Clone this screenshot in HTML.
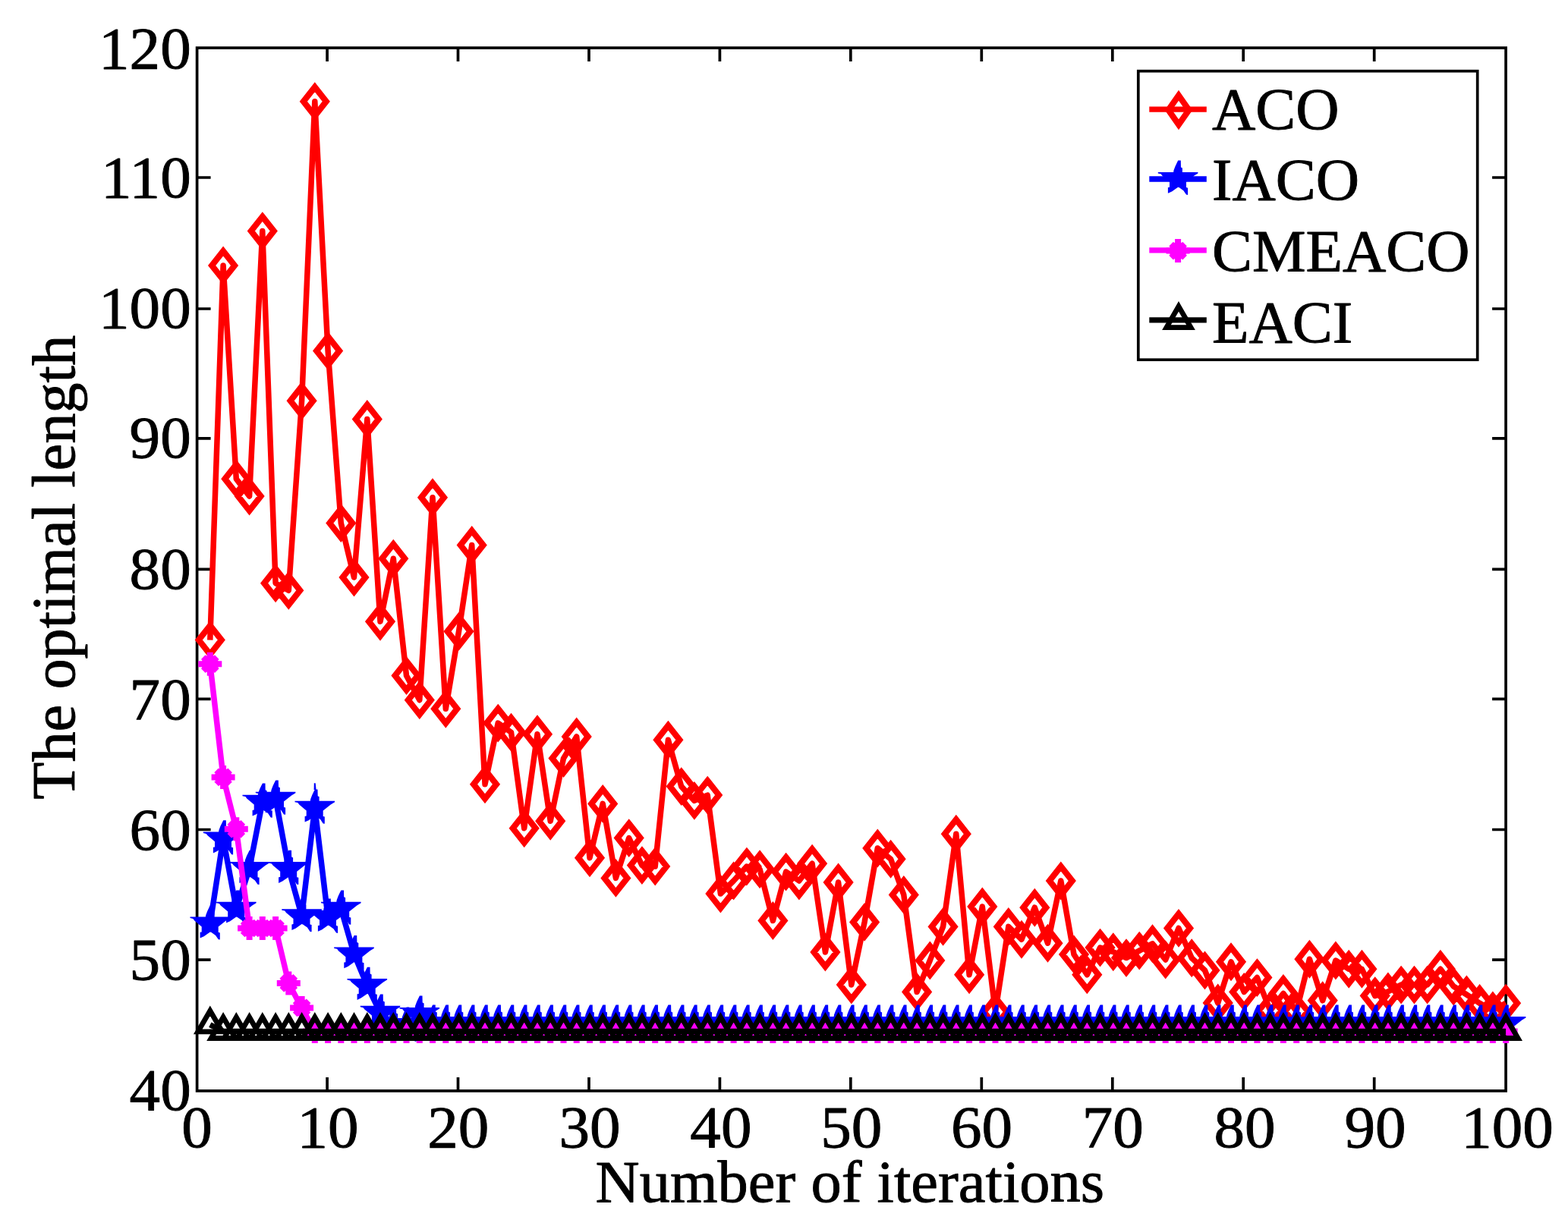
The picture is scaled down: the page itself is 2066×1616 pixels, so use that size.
<!DOCTYPE html>
<html lang="en">
<head>
<meta charset="utf-8">
<title>The optimal length versus Number of iterations</title>
<style>
html,body{margin:0;padding:0;background:#fff;}
body{width:2066px;height:1616px;overflow:hidden;}
figure{margin:0;padding:0;width:2066px;height:1616px;}
svg{display:block;}
text{font-family:"Liberation Serif","DejaVu Serif",serif;font-size:78px;fill:#000;stroke:#000;stroke-width:0.9;stroke-linejoin:round;}
.ax{stroke:#000;stroke-width:3.7;fill:none;stroke-linecap:butt;stroke-linejoin:miter;}
.ln{fill:none;stroke-width:7.5;stroke-linejoin:round;stroke-linecap:butt;}
.mk{fill:none;stroke-width:8;stroke-linejoin:miter;stroke-miterlimit:10;stroke-linecap:butt;}
.tk{stroke-width:6.8;}
.r{stroke:#f00;}.b{stroke:#00f;}.m{stroke:#f0f;}.k{stroke:#000;}
.st{fill:#00f;stroke:none;}
</style>
</head>
<body>
<figure>
<svg width="2066" height="1616" viewBox="0 0 2066 1616">
<rect x="0" y="0" width="2066" height="1616" fill="#fff"/>
<g id="axes">
<path class="ax" d="M431.1,1437.9v-18M431.1,63.1v18M603.5,1437.9v-18M603.5,63.1v18M776,1437.9v-18M776,63.1v18M948.4,1437.9v-18M948.4,63.1v18M1120.8,1437.9v-18M1120.8,63.1v18M1293.3,1437.9v-18M1293.3,63.1v18M1465.8,1437.9v-18M1465.8,63.1v18M1638.2,1437.9v-18M1638.2,63.1v18M1810.7,1437.9v-18M1810.7,63.1v18M259.6,234h18M1984.1,234h-18M259.6,407h18M1984.1,407h-18M259.6,577.9h18M1984.1,577.9h-18M259.6,750.3h18M1984.1,750.3h-18M259.6,921.3h18M1984.1,921.3h-18M259.6,1093.5h18M1984.1,1093.5h-18M259.6,1265.1h18M1984.1,1265.1h-18"/>
<rect class="ax" x="259.6" y="63.1" width="1724.5" height="1374.8"/>
</g>
<g id="series-aco">
<polyline class="ln r" points="276.8,843.6 294.1,349.9 311.3,631.3 328.6,654.1 345.8,304.6 363.1,768.7 380.3,778.2 397.6,528.3 414.8,133.7 432.1,462.4 449.3,689.5 466.5,761 483.8,552.5 501,819.2 518.3,736.2 535.5,890.5 552.8,922.8 570,655.8 587.3,934.3 604.5,832.3 621.7,718.5 639,1033.7 656.2,953.1 673.5,965.3 690.7,1091.7 708,967.7 725.2,1082.2 742.5,999.6 759.7,970.9 777,1130.7 794.2,1059.4 811.4,1157.4 828.7,1104.6 845.9,1140.6 863.2,1142 880.4,975.2 897.7,1036.6 914.9,1055.4 932.2,1048.1 949.4,1178 966.6,1161 983.9,1142.1 1001.1,1145.8 1018.4,1213.5 1035.6,1149.1 1052.9,1161 1070.1,1138.2 1087.4,1255 1104.6,1163 1121.8,1298 1139.1,1215.4 1156.3,1118 1173.6,1132.3 1190.8,1179.4 1208.1,1307.5 1225.3,1266 1242.6,1221.4 1259.8,1099.2 1277.1,1284.8 1294.3,1195 1311.5,1333.8 1328.8,1221.4 1346,1238.2 1363.3,1196.2 1380.5,1243.2 1397.8,1161 1415,1258 1432.3,1284.8 1449.5,1249.1 1466.8,1254.7 1484,1262.6 1501.2,1253.1 1518.5,1243.8 1535.7,1265 1553,1223.4 1570.2,1262.7 1587.5,1279 1604.7,1322 1622,1267.8 1639.2,1307.5 1656.4,1288.6 1673.7,1332 1690.9,1309.4 1708.2,1333 1725.4,1264.2 1742.7,1318.8 1759.9,1266 1777.2,1277.3 1794.4,1277.3 1811.7,1312.6 1828.9,1307 1846.1,1298.1 1863.4,1298.1 1880.6,1298.1 1897.9,1277.3 1915.1,1300 1932.4,1311 1949.6,1322.4 1966.9,1332 1984.1,1322.3"/>
<path class="mk r" d="M276.8,824.6l15,19 -15,19 -15,-19zM294.1,330.9l15,19 -15,19 -15,-19zM311.3,612.3l15,19 -15,19 -15,-19zM328.6,635.1l15,19 -15,19 -15,-19zM345.8,285.6l15,19 -15,19 -15,-19zM363.1,749.7l15,19 -15,19 -15,-19zM380.3,759.2l15,19 -15,19 -15,-19zM397.6,509.3l15,19 -15,19 -15,-19zM414.8,114.7l15,19 -15,19 -15,-19zM432.1,443.4l15,19 -15,19 -15,-19zM449.3,670.5l15,19 -15,19 -15,-19zM466.5,742l15,19 -15,19 -15,-19zM483.8,533.5l15,19 -15,19 -15,-19zM501,800.2l15,19 -15,19 -15,-19zM518.3,717.2l15,19 -15,19 -15,-19zM535.5,871.5l15,19 -15,19 -15,-19zM552.8,903.8l15,19 -15,19 -15,-19zM570,636.8l15,19 -15,19 -15,-19zM587.3,915.3l15,19 -15,19 -15,-19zM604.5,813.3l15,19 -15,19 -15,-19zM621.7,699.5l15,19 -15,19 -15,-19zM639,1014.7l15,19 -15,19 -15,-19zM656.2,934.1l15,19 -15,19 -15,-19zM673.5,946.3l15,19 -15,19 -15,-19zM690.7,1072.7l15,19 -15,19 -15,-19zM708,948.7l15,19 -15,19 -15,-19zM725.2,1063.2l15,19 -15,19 -15,-19zM742.5,980.6l15,19 -15,19 -15,-19zM759.7,951.9l15,19 -15,19 -15,-19zM777,1111.7l15,19 -15,19 -15,-19zM794.2,1040.4l15,19 -15,19 -15,-19zM811.4,1138.4l15,19 -15,19 -15,-19zM828.7,1085.6l15,19 -15,19 -15,-19zM845.9,1121.6l15,19 -15,19 -15,-19zM863.2,1123l15,19 -15,19 -15,-19zM880.4,956.2l15,19 -15,19 -15,-19zM897.7,1017.6l15,19 -15,19 -15,-19zM914.9,1036.4l15,19 -15,19 -15,-19zM932.2,1029.1l15,19 -15,19 -15,-19zM949.4,1159l15,19 -15,19 -15,-19zM966.6,1142l15,19 -15,19 -15,-19zM983.9,1123.1l15,19 -15,19 -15,-19zM1001.1,1126.8l15,19 -15,19 -15,-19zM1018.4,1194.5l15,19 -15,19 -15,-19zM1035.6,1130.1l15,19 -15,19 -15,-19zM1052.9,1142l15,19 -15,19 -15,-19zM1070.1,1119.2l15,19 -15,19 -15,-19zM1087.4,1236l15,19 -15,19 -15,-19zM1104.6,1144l15,19 -15,19 -15,-19zM1121.8,1279l15,19 -15,19 -15,-19zM1139.1,1196.4l15,19 -15,19 -15,-19zM1156.3,1099l15,19 -15,19 -15,-19zM1173.6,1113.3l15,19 -15,19 -15,-19zM1190.8,1160.4l15,19 -15,19 -15,-19zM1208.1,1288.5l15,19 -15,19 -15,-19zM1225.3,1247l15,19 -15,19 -15,-19zM1242.6,1202.4l15,19 -15,19 -15,-19zM1259.8,1080.2l15,19 -15,19 -15,-19zM1277.1,1265.8l15,19 -15,19 -15,-19zM1294.3,1176l15,19 -15,19 -15,-19zM1311.5,1314.8l15,19 -15,19 -15,-19zM1328.8,1202.4l15,19 -15,19 -15,-19zM1346,1219.2l15,19 -15,19 -15,-19zM1363.3,1177.2l15,19 -15,19 -15,-19zM1380.5,1224.2l15,19 -15,19 -15,-19zM1397.8,1142l15,19 -15,19 -15,-19zM1415,1239l15,19 -15,19 -15,-19zM1432.3,1265.8l15,19 -15,19 -15,-19zM1449.5,1230.1l15,19 -15,19 -15,-19zM1466.8,1235.7l15,19 -15,19 -15,-19zM1484,1243.6l15,19 -15,19 -15,-19zM1501.2,1234.1l15,19 -15,19 -15,-19zM1518.5,1224.8l15,19 -15,19 -15,-19zM1535.7,1246l15,19 -15,19 -15,-19zM1553,1204.4l15,19 -15,19 -15,-19zM1570.2,1243.7l15,19 -15,19 -15,-19zM1587.5,1260l15,19 -15,19 -15,-19zM1604.7,1303l15,19 -15,19 -15,-19zM1622,1248.8l15,19 -15,19 -15,-19zM1639.2,1288.5l15,19 -15,19 -15,-19zM1656.4,1269.6l15,19 -15,19 -15,-19zM1673.7,1313l15,19 -15,19 -15,-19zM1690.9,1290.4l15,19 -15,19 -15,-19zM1708.2,1314l15,19 -15,19 -15,-19zM1725.4,1245.2l15,19 -15,19 -15,-19zM1742.7,1299.8l15,19 -15,19 -15,-19zM1759.9,1247l15,19 -15,19 -15,-19zM1777.2,1258.3l15,19 -15,19 -15,-19zM1794.4,1258.3l15,19 -15,19 -15,-19zM1811.7,1293.6l15,19 -15,19 -15,-19zM1828.9,1288l15,19 -15,19 -15,-19zM1846.1,1279.1l15,19 -15,19 -15,-19zM1863.4,1279.1l15,19 -15,19 -15,-19zM1880.6,1279.1l15,19 -15,19 -15,-19zM1897.9,1258.3l15,19 -15,19 -15,-19zM1915.1,1281l15,19 -15,19 -15,-19zM1932.4,1292l15,19 -15,19 -15,-19zM1949.6,1303.4l15,19 -15,19 -15,-19zM1966.9,1313l15,19 -15,19 -15,-19zM1984.1,1303.3l15,19 -15,19 -15,-19z"/>
</g>
<g id="series-iaco">
<polyline class="ln b" points="276.8,1217.7 294.1,1105.6 311.3,1197.8 328.6,1145.1 345.8,1056.8 363.1,1052.8 380.3,1145.1 397.6,1207.3 414.8,1064.8 432.1,1209 449.3,1197.8 466.5,1257.5 483.8,1299.1 501,1334.9 518.3,1351 535.5,1352 552.8,1337 570,1349 587.3,1349 604.5,1349 621.7,1349 639,1349 656.2,1349 673.5,1349 690.7,1349 708,1349 725.2,1349 742.5,1349 759.7,1349 777,1349 794.2,1349 811.4,1349 828.7,1349 845.9,1349 863.2,1349 880.4,1349 897.7,1349 914.9,1349 932.2,1349 949.4,1349 966.6,1349 983.9,1349 1001.1,1349 1018.4,1349 1035.6,1349 1052.9,1349 1070.1,1349 1087.4,1349 1104.6,1349 1121.8,1349 1139.1,1349 1156.3,1349 1173.6,1349 1190.8,1349 1208.1,1349 1225.3,1349 1242.6,1349 1259.8,1349 1277.1,1349 1294.3,1349 1311.5,1349 1328.8,1349 1346,1349 1363.3,1349 1380.5,1349 1397.8,1349 1415,1349 1432.3,1349 1449.5,1349 1466.8,1349 1484,1349 1501.2,1349 1518.5,1349 1535.7,1349 1553,1349 1570.2,1349 1587.5,1349 1604.7,1349 1622,1349 1639.2,1349 1656.4,1349 1673.7,1349 1690.9,1349 1708.2,1349 1725.4,1349 1742.7,1349 1759.9,1349 1777.2,1349 1794.4,1349 1811.7,1349 1828.9,1349 1846.1,1349 1863.4,1349 1880.6,1349 1897.9,1349 1915.1,1349 1932.4,1349 1949.6,1349 1966.9,1349 1984.1,1349"/>
<path class="st" d="M276.9,1193.3l3.6,0 0.2,8.9 1.9,1 0,5.4 20.5,0 0,1.5 -5.3,3.3 -10.1,8 0,7.4 2.1,0.6 0,9.2 -2.1,-0.3 -3.6,-5.3 -5.9,-4.2 -1.4,-0.3 -8.1,5.7 -5.1,2.3 0,-7.7 2.1,-0.3 0,-7.1 -9.5,-8 -1.8,-2.4 -3.9,-0.9 0,-1.5 20.3,0 0.4,-2.4 2,-5.3 1.9,-3.9zM294.2,1081.2l3.6,0 0.2,8.9 1.9,1 0,5.4 20.5,0 0,1.5 -5.3,3.3 -10.1,8 0,7.4 2.1,0.6 0,9.2 -2.1,-0.3 -3.6,-5.3 -5.9,-4.2 -1.4,-0.3 -8.1,5.7 -5.1,2.3 0,-7.7 2.1,-0.3 0,-7.1 -9.5,-8 -1.8,-2.4 -3.9,-0.9 0,-1.5 20.3,0 0.4,-2.4 2,-5.3 1.9,-3.9zM311.4,1173.4l3.6,0 0.2,8.9 1.9,1 0,5.4 20.5,0 0,1.5 -5.3,3.3 -10.1,8 0,7.4 2.1,0.6 0,9.2 -2.1,-0.3 -3.6,-5.3 -5.9,-4.2 -1.4,-0.3 -8.1,5.7 -5.1,2.3 0,-7.7 2.1,-0.3 0,-7.1 -9.5,-8 -1.8,-2.4 -3.9,-0.9 0,-1.5 20.3,0 0.4,-2.4 2,-5.3 1.9,-3.9zM328.7,1120.7l3.6,0 0.2,8.9 1.9,1 0,5.4 20.5,0 0,1.5 -5.3,3.3 -10.1,8 0,7.4 2.1,0.6 0,9.2 -2.1,-0.3 -3.6,-5.3 -5.9,-4.2 -1.4,-0.3 -8.1,5.7 -5.1,2.3 0,-7.7 2.1,-0.3 0,-7.1 -9.5,-8 -1.8,-2.4 -3.9,-0.9 0,-1.5 20.3,0 0.4,-2.4 2,-5.3 1.9,-3.9zM345.9,1032.4l3.6,0 0.2,8.9 1.9,1 0,5.4 20.5,0 0,1.5 -5.3,3.3 -10.1,8 0,7.4 2.1,0.6 0,9.2 -2.1,-0.3 -3.6,-5.3 -5.9,-4.2 -1.4,-0.3 -8.1,5.7 -5.1,2.3 0,-7.7 2.1,-0.3 0,-7.1 -9.5,-8 -1.8,-2.4 -3.9,-0.9 0,-1.5 20.3,0 0.4,-2.4 2,-5.3 1.9,-3.9zM363.2,1028.4l3.6,0 0.2,8.9 1.9,1 0,5.4 20.5,0 0,1.5 -5.3,3.3 -10.1,8 0,7.4 2.1,0.6 0,9.2 -2.1,-0.3 -3.6,-5.3 -5.9,-4.2 -1.4,-0.3 -8.1,5.7 -5.1,2.3 0,-7.7 2.1,-0.3 0,-7.1 -9.5,-8 -1.8,-2.4 -3.9,-0.9 0,-1.5 20.3,0 0.4,-2.4 2,-5.3 1.9,-3.9zM380.4,1120.7l3.6,0 0.2,8.9 1.9,1 0,5.4 20.5,0 0,1.5 -5.3,3.3 -10.1,8 0,7.4 2.1,0.6 0,9.2 -2.1,-0.3 -3.6,-5.3 -5.9,-4.2 -1.4,-0.3 -8.1,5.7 -5.1,2.3 0,-7.7 2.1,-0.3 0,-7.1 -9.5,-8 -1.8,-2.4 -3.9,-0.9 0,-1.5 20.3,0 0.4,-2.4 2,-5.3 1.9,-3.9zM397.7,1182.9l3.6,0 0.2,8.9 1.9,1 0,5.4 20.5,0 0,1.5 -5.3,3.3 -10.1,8 0,7.4 2.1,0.6 0,9.2 -2.1,-0.3 -3.6,-5.3 -5.9,-4.2 -1.4,-0.3 -8.1,5.7 -5.1,2.3 0,-7.7 2.1,-0.3 0,-7.1 -9.5,-8 -1.8,-2.4 -3.9,-0.9 0,-1.5 20.3,0 0.4,-2.4 2,-5.3 1.9,-3.9zM414.9,1040.4l3.6,0 0.2,8.9 1.9,1 0,5.4 20.5,0 0,1.5 -5.3,3.3 -10.1,8 0,7.4 2.1,0.6 0,9.2 -2.1,-0.3 -3.6,-5.3 -5.9,-4.2 -1.4,-0.3 -8.1,5.7 -5.1,2.3 0,-7.7 2.1,-0.3 0,-7.1 -9.5,-8 -1.8,-2.4 -3.9,-0.9 0,-1.5 20.3,0 0.4,-2.4 2,-5.3 1.9,-3.9zM432.2,1184.6l3.6,0 0.2,8.9 1.9,1 0,5.4 20.5,0 0,1.5 -5.3,3.3 -10.1,8 0,7.4 2.1,0.6 0,9.2 -2.1,-0.3 -3.6,-5.3 -5.9,-4.2 -1.4,-0.3 -8.1,5.7 -5.1,2.3 0,-7.7 2.1,-0.3 0,-7.1 -9.5,-8 -1.8,-2.4 -3.9,-0.9 0,-1.5 20.3,0 0.4,-2.4 2,-5.3 1.9,-3.9zM449.4,1173.4l3.6,0 0.2,8.9 1.9,1 0,5.4 20.5,0 0,1.5 -5.3,3.3 -10.1,8 0,7.4 2.1,0.6 0,9.2 -2.1,-0.3 -3.6,-5.3 -5.9,-4.2 -1.4,-0.3 -8.1,5.7 -5.1,2.3 0,-7.7 2.1,-0.3 0,-7.1 -9.5,-8 -1.8,-2.4 -3.9,-0.9 0,-1.5 20.3,0 0.4,-2.4 2,-5.3 1.9,-3.9zM466.6,1233.1l3.6,0 0.2,8.9 1.9,1 0,5.4 20.5,0 0,1.5 -5.3,3.3 -10.1,8 0,7.4 2.1,0.6 0,9.2 -2.1,-0.3 -3.6,-5.3 -5.9,-4.2 -1.4,-0.3 -8.1,5.7 -5.1,2.3 0,-7.7 2.1,-0.3 0,-7.1 -9.5,-8 -1.8,-2.4 -3.9,-0.9 0,-1.5 20.3,0 0.4,-2.4 2,-5.3 1.9,-3.9zM483.9,1274.7l3.6,0 0.2,8.9 1.9,1 0,5.4 20.5,0 0,1.5 -5.3,3.3 -10.1,8 0,7.4 2.1,0.6 0,9.2 -2.1,-0.3 -3.6,-5.3 -5.9,-4.2 -1.4,-0.3 -8.1,5.7 -5.1,2.3 0,-7.7 2.1,-0.3 0,-7.1 -9.5,-8 -1.8,-2.4 -3.9,-0.9 0,-1.5 20.3,0 0.4,-2.4 2,-5.3 1.9,-3.9zM501.1,1310.5l3.6,0 0.2,8.9 1.9,1 0,5.4 20.5,0 0,1.5 -5.3,3.3 -10.1,8 0,7.4 2.1,0.6 0,9.2 -2.1,-0.3 -3.6,-5.3 -5.9,-4.2 -1.4,-0.3 -8.1,5.7 -5.1,2.3 0,-7.7 2.1,-0.3 0,-7.1 -9.5,-8 -1.8,-2.4 -3.9,-0.9 0,-1.5 20.3,0 0.4,-2.4 2,-5.3 1.9,-3.9zM518.4,1326.6l3.6,0 0.2,8.9 1.9,1 0,5.4 20.5,0 0,1.5 -5.3,3.3 -10.1,8 0,7.4 2.1,0.6 0,9.2 -2.1,-0.3 -3.6,-5.3 -5.9,-4.2 -1.4,-0.3 -8.1,5.7 -5.1,2.3 0,-7.7 2.1,-0.3 0,-7.1 -9.5,-8 -1.8,-2.4 -3.9,-0.9 0,-1.5 20.3,0 0.4,-2.4 2,-5.3 1.9,-3.9zM535.6,1327.6l3.6,0 0.2,8.9 1.9,1 0,5.4 20.5,0 0,1.5 -5.3,3.3 -10.1,8 0,7.4 2.1,0.6 0,9.2 -2.1,-0.3 -3.6,-5.3 -5.9,-4.2 -1.4,-0.3 -8.1,5.7 -5.1,2.3 0,-7.7 2.1,-0.3 0,-7.1 -9.5,-8 -1.8,-2.4 -3.9,-0.9 0,-1.5 20.3,0 0.4,-2.4 2,-5.3 1.9,-3.9zM552.9,1312.6l3.6,0 0.2,8.9 1.9,1 0,5.4 20.5,0 0,1.5 -5.3,3.3 -10.1,8 0,7.4 2.1,0.6 0,9.2 -2.1,-0.3 -3.6,-5.3 -5.9,-4.2 -1.4,-0.3 -8.1,5.7 -5.1,2.3 0,-7.7 2.1,-0.3 0,-7.1 -9.5,-8 -1.8,-2.4 -3.9,-0.9 0,-1.5 20.3,0 0.4,-2.4 2,-5.3 1.9,-3.9zM570.1,1324.6l3.6,0 0.2,8.9 1.9,1 0,5.4 20.5,0 0,1.5 -5.3,3.3 -10.1,8 0,7.4 2.1,0.6 0,9.2 -2.1,-0.3 -3.6,-5.3 -5.9,-4.2 -1.4,-0.3 -8.1,5.7 -5.1,2.3 0,-7.7 2.1,-0.3 0,-7.1 -9.5,-8 -1.8,-2.4 -3.9,-0.9 0,-1.5 20.3,0 0.4,-2.4 2,-5.3 1.9,-3.9zM587.4,1324.6l3.6,0 0.2,8.9 1.9,1 0,5.4 20.5,0 0,1.5 -5.3,3.3 -10.1,8 0,7.4 2.1,0.6 0,9.2 -2.1,-0.3 -3.6,-5.3 -5.9,-4.2 -1.4,-0.3 -8.1,5.7 -5.1,2.3 0,-7.7 2.1,-0.3 0,-7.1 -9.5,-8 -1.8,-2.4 -3.9,-0.9 0,-1.5 20.3,0 0.4,-2.4 2,-5.3 1.9,-3.9zM604.6,1324.6l3.6,0 0.2,8.9 1.9,1 0,5.4 20.5,0 0,1.5 -5.3,3.3 -10.1,8 0,7.4 2.1,0.6 0,9.2 -2.1,-0.3 -3.6,-5.3 -5.9,-4.2 -1.4,-0.3 -8.1,5.7 -5.1,2.3 0,-7.7 2.1,-0.3 0,-7.1 -9.5,-8 -1.8,-2.4 -3.9,-0.9 0,-1.5 20.3,0 0.4,-2.4 2,-5.3 1.9,-3.9zM621.8,1324.6l3.6,0 0.2,8.9 1.9,1 0,5.4 20.5,0 0,1.5 -5.3,3.3 -10.1,8 0,7.4 2.1,0.6 0,9.2 -2.1,-0.3 -3.6,-5.3 -5.9,-4.2 -1.4,-0.3 -8.1,5.7 -5.1,2.3 0,-7.7 2.1,-0.3 0,-7.1 -9.5,-8 -1.8,-2.4 -3.9,-0.9 0,-1.5 20.3,0 0.4,-2.4 2,-5.3 1.9,-3.9zM639.1,1324.6l3.6,0 0.2,8.9 1.9,1 0,5.4 20.5,0 0,1.5 -5.3,3.3 -10.1,8 0,7.4 2.1,0.6 0,9.2 -2.1,-0.3 -3.6,-5.3 -5.9,-4.2 -1.4,-0.3 -8.1,5.7 -5.1,2.3 0,-7.7 2.1,-0.3 0,-7.1 -9.5,-8 -1.8,-2.4 -3.9,-0.9 0,-1.5 20.3,0 0.4,-2.4 2,-5.3 1.9,-3.9zM656.3,1324.6l3.6,0 0.2,8.9 1.9,1 0,5.4 20.5,0 0,1.5 -5.3,3.3 -10.1,8 0,7.4 2.1,0.6 0,9.2 -2.1,-0.3 -3.6,-5.3 -5.9,-4.2 -1.4,-0.3 -8.1,5.7 -5.1,2.3 0,-7.7 2.1,-0.3 0,-7.1 -9.5,-8 -1.8,-2.4 -3.9,-0.9 0,-1.5 20.3,0 0.4,-2.4 2,-5.3 1.9,-3.9zM673.6,1324.6l3.6,0 0.2,8.9 1.9,1 0,5.4 20.5,0 0,1.5 -5.3,3.3 -10.1,8 0,7.4 2.1,0.6 0,9.2 -2.1,-0.3 -3.6,-5.3 -5.9,-4.2 -1.4,-0.3 -8.1,5.7 -5.1,2.3 0,-7.7 2.1,-0.3 0,-7.1 -9.5,-8 -1.8,-2.4 -3.9,-0.9 0,-1.5 20.3,0 0.4,-2.4 2,-5.3 1.9,-3.9zM690.8,1324.6l3.6,0 0.2,8.9 1.9,1 0,5.4 20.5,0 0,1.5 -5.3,3.3 -10.1,8 0,7.4 2.1,0.6 0,9.2 -2.1,-0.3 -3.6,-5.3 -5.9,-4.2 -1.4,-0.3 -8.1,5.7 -5.1,2.3 0,-7.7 2.1,-0.3 0,-7.1 -9.5,-8 -1.8,-2.4 -3.9,-0.9 0,-1.5 20.3,0 0.4,-2.4 2,-5.3 1.9,-3.9zM708.1,1324.6l3.6,0 0.2,8.9 1.9,1 0,5.4 20.5,0 0,1.5 -5.3,3.3 -10.1,8 0,7.4 2.1,0.6 0,9.2 -2.1,-0.3 -3.6,-5.3 -5.9,-4.2 -1.4,-0.3 -8.1,5.7 -5.1,2.3 0,-7.7 2.1,-0.3 0,-7.1 -9.5,-8 -1.8,-2.4 -3.9,-0.9 0,-1.5 20.3,0 0.4,-2.4 2,-5.3 1.9,-3.9zM725.3,1324.6l3.6,0 0.2,8.9 1.9,1 0,5.4 20.5,0 0,1.5 -5.3,3.3 -10.1,8 0,7.4 2.1,0.6 0,9.2 -2.1,-0.3 -3.6,-5.3 -5.9,-4.2 -1.4,-0.3 -8.1,5.7 -5.1,2.3 0,-7.7 2.1,-0.3 0,-7.1 -9.5,-8 -1.8,-2.4 -3.9,-0.9 0,-1.5 20.3,0 0.4,-2.4 2,-5.3 1.9,-3.9zM742.6,1324.6l3.6,0 0.2,8.9 1.9,1 0,5.4 20.5,0 0,1.5 -5.3,3.3 -10.1,8 0,7.4 2.1,0.6 0,9.2 -2.1,-0.3 -3.6,-5.3 -5.9,-4.2 -1.4,-0.3 -8.1,5.7 -5.1,2.3 0,-7.7 2.1,-0.3 0,-7.1 -9.5,-8 -1.8,-2.4 -3.9,-0.9 0,-1.5 20.3,0 0.4,-2.4 2,-5.3 1.9,-3.9zM759.8,1324.6l3.6,0 0.2,8.9 1.9,1 0,5.4 20.5,0 0,1.5 -5.3,3.3 -10.1,8 0,7.4 2.1,0.6 0,9.2 -2.1,-0.3 -3.6,-5.3 -5.9,-4.2 -1.4,-0.3 -8.1,5.7 -5.1,2.3 0,-7.7 2.1,-0.3 0,-7.1 -9.5,-8 -1.8,-2.4 -3.9,-0.9 0,-1.5 20.3,0 0.4,-2.4 2,-5.3 1.9,-3.9zM777.1,1324.6l3.6,0 0.2,8.9 1.9,1 0,5.4 20.5,0 0,1.5 -5.3,3.3 -10.1,8 0,7.4 2.1,0.6 0,9.2 -2.1,-0.3 -3.6,-5.3 -5.9,-4.2 -1.4,-0.3 -8.1,5.7 -5.1,2.3 0,-7.7 2.1,-0.3 0,-7.1 -9.5,-8 -1.8,-2.4 -3.9,-0.9 0,-1.5 20.3,0 0.4,-2.4 2,-5.3 1.9,-3.9zM794.3,1324.6l3.6,0 0.2,8.9 1.9,1 0,5.4 20.5,0 0,1.5 -5.3,3.3 -10.1,8 0,7.4 2.1,0.6 0,9.2 -2.1,-0.3 -3.6,-5.3 -5.9,-4.2 -1.4,-0.3 -8.1,5.7 -5.1,2.3 0,-7.7 2.1,-0.3 0,-7.1 -9.5,-8 -1.8,-2.4 -3.9,-0.9 0,-1.5 20.3,0 0.4,-2.4 2,-5.3 1.9,-3.9zM811.5,1324.6l3.6,0 0.2,8.9 1.9,1 0,5.4 20.5,0 0,1.5 -5.3,3.3 -10.1,8 0,7.4 2.1,0.6 0,9.2 -2.1,-0.3 -3.6,-5.3 -5.9,-4.2 -1.4,-0.3 -8.1,5.7 -5.1,2.3 0,-7.7 2.1,-0.3 0,-7.1 -9.5,-8 -1.8,-2.4 -3.9,-0.9 0,-1.5 20.3,0 0.4,-2.4 2,-5.3 1.9,-3.9zM828.8,1324.6l3.6,0 0.2,8.9 1.9,1 0,5.4 20.5,0 0,1.5 -5.3,3.3 -10.1,8 0,7.4 2.1,0.6 0,9.2 -2.1,-0.3 -3.6,-5.3 -5.9,-4.2 -1.4,-0.3 -8.1,5.7 -5.1,2.3 0,-7.7 2.1,-0.3 0,-7.1 -9.5,-8 -1.8,-2.4 -3.9,-0.9 0,-1.5 20.3,0 0.4,-2.4 2,-5.3 1.9,-3.9zM846,1324.6l3.6,0 0.2,8.9 1.9,1 0,5.4 20.5,0 0,1.5 -5.3,3.3 -10.1,8 0,7.4 2.1,0.6 0,9.2 -2.1,-0.3 -3.6,-5.3 -5.9,-4.2 -1.4,-0.3 -8.1,5.7 -5.1,2.3 0,-7.7 2.1,-0.3 0,-7.1 -9.5,-8 -1.8,-2.4 -3.9,-0.9 0,-1.5 20.3,0 0.4,-2.4 2,-5.3 1.9,-3.9zM863.3,1324.6l3.6,0 0.2,8.9 1.9,1 0,5.4 20.5,0 0,1.5 -5.3,3.3 -10.1,8 0,7.4 2.1,0.6 0,9.2 -2.1,-0.3 -3.6,-5.3 -5.9,-4.2 -1.4,-0.3 -8.1,5.7 -5.1,2.3 0,-7.7 2.1,-0.3 0,-7.1 -9.5,-8 -1.8,-2.4 -3.9,-0.9 0,-1.5 20.3,0 0.4,-2.4 2,-5.3 1.9,-3.9zM880.5,1324.6l3.6,0 0.2,8.9 1.9,1 0,5.4 20.5,0 0,1.5 -5.3,3.3 -10.1,8 0,7.4 2.1,0.6 0,9.2 -2.1,-0.3 -3.6,-5.3 -5.9,-4.2 -1.4,-0.3 -8.1,5.7 -5.1,2.3 0,-7.7 2.1,-0.3 0,-7.1 -9.5,-8 -1.8,-2.4 -3.9,-0.9 0,-1.5 20.3,0 0.4,-2.4 2,-5.3 1.9,-3.9zM897.8,1324.6l3.6,0 0.2,8.9 1.9,1 0,5.4 20.5,0 0,1.5 -5.3,3.3 -10.1,8 0,7.4 2.1,0.6 0,9.2 -2.1,-0.3 -3.6,-5.3 -5.9,-4.2 -1.4,-0.3 -8.1,5.7 -5.1,2.3 0,-7.7 2.1,-0.3 0,-7.1 -9.5,-8 -1.8,-2.4 -3.9,-0.9 0,-1.5 20.3,0 0.4,-2.4 2,-5.3 1.9,-3.9zM915,1324.6l3.6,0 0.2,8.9 1.9,1 0,5.4 20.5,0 0,1.5 -5.3,3.3 -10.1,8 0,7.4 2.1,0.6 0,9.2 -2.1,-0.3 -3.6,-5.3 -5.9,-4.2 -1.4,-0.3 -8.1,5.7 -5.1,2.3 0,-7.7 2.1,-0.3 0,-7.1 -9.5,-8 -1.8,-2.4 -3.9,-0.9 0,-1.5 20.3,0 0.4,-2.4 2,-5.3 1.9,-3.9zM932.3,1324.6l3.6,0 0.2,8.9 1.9,1 0,5.4 20.5,0 0,1.5 -5.3,3.3 -10.1,8 0,7.4 2.1,0.6 0,9.2 -2.1,-0.3 -3.6,-5.3 -5.9,-4.2 -1.4,-0.3 -8.1,5.7 -5.1,2.3 0,-7.7 2.1,-0.3 0,-7.1 -9.5,-8 -1.8,-2.4 -3.9,-0.9 0,-1.5 20.3,0 0.4,-2.4 2,-5.3 1.9,-3.9zM949.5,1324.6l3.6,0 0.2,8.9 1.9,1 0,5.4 20.5,0 0,1.5 -5.3,3.3 -10.1,8 0,7.4 2.1,0.6 0,9.2 -2.1,-0.3 -3.6,-5.3 -5.9,-4.2 -1.4,-0.3 -8.1,5.7 -5.1,2.3 0,-7.7 2.1,-0.3 0,-7.1 -9.5,-8 -1.8,-2.4 -3.9,-0.9 0,-1.5 20.3,0 0.4,-2.4 2,-5.3 1.9,-3.9zM966.7,1324.6l3.6,0 0.2,8.9 1.9,1 0,5.4 20.5,0 0,1.5 -5.3,3.3 -10.1,8 0,7.4 2.1,0.6 0,9.2 -2.1,-0.3 -3.6,-5.3 -5.9,-4.2 -1.4,-0.3 -8.1,5.7 -5.1,2.3 0,-7.7 2.1,-0.3 0,-7.1 -9.5,-8 -1.8,-2.4 -3.9,-0.9 0,-1.5 20.3,0 0.4,-2.4 2,-5.3 1.9,-3.9zM984,1324.6l3.6,0 0.2,8.9 1.9,1 0,5.4 20.5,0 0,1.5 -5.3,3.3 -10.1,8 0,7.4 2.1,0.6 0,9.2 -2.1,-0.3 -3.6,-5.3 -5.9,-4.2 -1.4,-0.3 -8.1,5.7 -5.1,2.3 0,-7.7 2.1,-0.3 0,-7.1 -9.5,-8 -1.8,-2.4 -3.9,-0.9 0,-1.5 20.3,0 0.4,-2.4 2,-5.3 1.9,-3.9zM1001.2,1324.6l3.6,0 0.2,8.9 1.9,1 0,5.4 20.5,0 0,1.5 -5.3,3.3 -10.1,8 0,7.4 2.1,0.6 0,9.2 -2.1,-0.3 -3.6,-5.3 -5.9,-4.2 -1.4,-0.3 -8.1,5.7 -5.1,2.3 0,-7.7 2.1,-0.3 0,-7.1 -9.5,-8 -1.8,-2.4 -3.9,-0.9 0,-1.5 20.3,0 0.4,-2.4 2,-5.3 1.9,-3.9zM1018.5,1324.6l3.6,0 0.2,8.9 1.9,1 0,5.4 20.5,0 0,1.5 -5.3,3.3 -10.1,8 0,7.4 2.1,0.6 0,9.2 -2.1,-0.3 -3.6,-5.3 -5.9,-4.2 -1.4,-0.3 -8.1,5.7 -5.1,2.3 0,-7.7 2.1,-0.3 0,-7.1 -9.5,-8 -1.8,-2.4 -3.9,-0.9 0,-1.5 20.3,0 0.4,-2.4 2,-5.3 1.9,-3.9zM1035.7,1324.6l3.6,0 0.2,8.9 1.9,1 0,5.4 20.5,0 0,1.5 -5.3,3.3 -10.1,8 0,7.4 2.1,0.6 0,9.2 -2.1,-0.3 -3.6,-5.3 -5.9,-4.2 -1.4,-0.3 -8.1,5.7 -5.1,2.3 0,-7.7 2.1,-0.3 0,-7.1 -9.5,-8 -1.8,-2.4 -3.9,-0.9 0,-1.5 20.3,0 0.4,-2.4 2,-5.3 1.9,-3.9zM1053,1324.6l3.6,0 0.2,8.9 1.9,1 0,5.4 20.5,0 0,1.5 -5.3,3.3 -10.1,8 0,7.4 2.1,0.6 0,9.2 -2.1,-0.3 -3.6,-5.3 -5.9,-4.2 -1.4,-0.3 -8.1,5.7 -5.1,2.3 0,-7.7 2.1,-0.3 0,-7.1 -9.5,-8 -1.8,-2.4 -3.9,-0.9 0,-1.5 20.3,0 0.4,-2.4 2,-5.3 1.9,-3.9zM1070.2,1324.6l3.6,0 0.2,8.9 1.9,1 0,5.4 20.5,0 0,1.5 -5.3,3.3 -10.1,8 0,7.4 2.1,0.6 0,9.2 -2.1,-0.3 -3.6,-5.3 -5.9,-4.2 -1.4,-0.3 -8.1,5.7 -5.1,2.3 0,-7.7 2.1,-0.3 0,-7.1 -9.5,-8 -1.8,-2.4 -3.9,-0.9 0,-1.5 20.3,0 0.4,-2.4 2,-5.3 1.9,-3.9zM1087.5,1324.6l3.6,0 0.2,8.9 1.9,1 0,5.4 20.5,0 0,1.5 -5.3,3.3 -10.1,8 0,7.4 2.1,0.6 0,9.2 -2.1,-0.3 -3.6,-5.3 -5.9,-4.2 -1.4,-0.3 -8.1,5.7 -5.1,2.3 0,-7.7 2.1,-0.3 0,-7.1 -9.5,-8 -1.8,-2.4 -3.9,-0.9 0,-1.5 20.3,0 0.4,-2.4 2,-5.3 1.9,-3.9zM1104.7,1324.6l3.6,0 0.2,8.9 1.9,1 0,5.4 20.5,0 0,1.5 -5.3,3.3 -10.1,8 0,7.4 2.1,0.6 0,9.2 -2.1,-0.3 -3.6,-5.3 -5.9,-4.2 -1.4,-0.3 -8.1,5.7 -5.1,2.3 0,-7.7 2.1,-0.3 0,-7.1 -9.5,-8 -1.8,-2.4 -3.9,-0.9 0,-1.5 20.3,0 0.4,-2.4 2,-5.3 1.9,-3.9zM1121.9,1324.6l3.6,0 0.2,8.9 1.9,1 0,5.4 20.5,0 0,1.5 -5.3,3.3 -10.1,8 0,7.4 2.1,0.6 0,9.2 -2.1,-0.3 -3.6,-5.3 -5.9,-4.2 -1.4,-0.3 -8.1,5.7 -5.1,2.3 0,-7.7 2.1,-0.3 0,-7.1 -9.5,-8 -1.8,-2.4 -3.9,-0.9 0,-1.5 20.3,0 0.4,-2.4 2,-5.3 1.9,-3.9zM1139.2,1324.6l3.6,0 0.2,8.9 1.9,1 0,5.4 20.5,0 0,1.5 -5.3,3.3 -10.1,8 0,7.4 2.1,0.6 0,9.2 -2.1,-0.3 -3.6,-5.3 -5.9,-4.2 -1.4,-0.3 -8.1,5.7 -5.1,2.3 0,-7.7 2.1,-0.3 0,-7.1 -9.5,-8 -1.8,-2.4 -3.9,-0.9 0,-1.5 20.3,0 0.4,-2.4 2,-5.3 1.9,-3.9zM1156.4,1324.6l3.6,0 0.2,8.9 1.9,1 0,5.4 20.5,0 0,1.5 -5.3,3.3 -10.1,8 0,7.4 2.1,0.6 0,9.2 -2.1,-0.3 -3.6,-5.3 -5.9,-4.2 -1.4,-0.3 -8.1,5.7 -5.1,2.3 0,-7.7 2.1,-0.3 0,-7.1 -9.5,-8 -1.8,-2.4 -3.9,-0.9 0,-1.5 20.3,0 0.4,-2.4 2,-5.3 1.9,-3.9zM1173.7,1324.6l3.6,0 0.2,8.9 1.9,1 0,5.4 20.5,0 0,1.5 -5.3,3.3 -10.1,8 0,7.4 2.1,0.6 0,9.2 -2.1,-0.3 -3.6,-5.3 -5.9,-4.2 -1.4,-0.3 -8.1,5.7 -5.1,2.3 0,-7.7 2.1,-0.3 0,-7.1 -9.5,-8 -1.8,-2.4 -3.9,-0.9 0,-1.5 20.3,0 0.4,-2.4 2,-5.3 1.9,-3.9zM1190.9,1324.6l3.6,0 0.2,8.9 1.9,1 0,5.4 20.5,0 0,1.5 -5.3,3.3 -10.1,8 0,7.4 2.1,0.6 0,9.2 -2.1,-0.3 -3.6,-5.3 -5.9,-4.2 -1.4,-0.3 -8.1,5.7 -5.1,2.3 0,-7.7 2.1,-0.3 0,-7.1 -9.5,-8 -1.8,-2.4 -3.9,-0.9 0,-1.5 20.3,0 0.4,-2.4 2,-5.3 1.9,-3.9zM1208.2,1324.6l3.6,0 0.2,8.9 1.9,1 0,5.4 20.5,0 0,1.5 -5.3,3.3 -10.1,8 0,7.4 2.1,0.6 0,9.2 -2.1,-0.3 -3.6,-5.3 -5.9,-4.2 -1.4,-0.3 -8.1,5.7 -5.1,2.3 0,-7.7 2.1,-0.3 0,-7.1 -9.5,-8 -1.8,-2.4 -3.9,-0.9 0,-1.5 20.3,0 0.4,-2.4 2,-5.3 1.9,-3.9zM1225.4,1324.6l3.6,0 0.2,8.9 1.9,1 0,5.4 20.5,0 0,1.5 -5.3,3.3 -10.1,8 0,7.4 2.1,0.6 0,9.2 -2.1,-0.3 -3.6,-5.3 -5.9,-4.2 -1.4,-0.3 -8.1,5.7 -5.1,2.3 0,-7.7 2.1,-0.3 0,-7.1 -9.5,-8 -1.8,-2.4 -3.9,-0.9 0,-1.5 20.3,0 0.4,-2.4 2,-5.3 1.9,-3.9zM1242.7,1324.6l3.6,0 0.2,8.9 1.9,1 0,5.4 20.5,0 0,1.5 -5.3,3.3 -10.1,8 0,7.4 2.1,0.6 0,9.2 -2.1,-0.3 -3.6,-5.3 -5.9,-4.2 -1.4,-0.3 -8.1,5.7 -5.1,2.3 0,-7.7 2.1,-0.3 0,-7.1 -9.5,-8 -1.8,-2.4 -3.9,-0.9 0,-1.5 20.3,0 0.4,-2.4 2,-5.3 1.9,-3.9zM1259.9,1324.6l3.6,0 0.2,8.9 1.9,1 0,5.4 20.5,0 0,1.5 -5.3,3.3 -10.1,8 0,7.4 2.1,0.6 0,9.2 -2.1,-0.3 -3.6,-5.3 -5.9,-4.2 -1.4,-0.3 -8.1,5.7 -5.1,2.3 0,-7.7 2.1,-0.3 0,-7.1 -9.5,-8 -1.8,-2.4 -3.9,-0.9 0,-1.5 20.3,0 0.4,-2.4 2,-5.3 1.9,-3.9zM1277.2,1324.6l3.6,0 0.2,8.9 1.9,1 0,5.4 20.5,0 0,1.5 -5.3,3.3 -10.1,8 0,7.4 2.1,0.6 0,9.2 -2.1,-0.3 -3.6,-5.3 -5.9,-4.2 -1.4,-0.3 -8.1,5.7 -5.1,2.3 0,-7.7 2.1,-0.3 0,-7.1 -9.5,-8 -1.8,-2.4 -3.9,-0.9 0,-1.5 20.3,0 0.4,-2.4 2,-5.3 1.9,-3.9zM1294.4,1324.6l3.6,0 0.2,8.9 1.9,1 0,5.4 20.5,0 0,1.5 -5.3,3.3 -10.1,8 0,7.4 2.1,0.6 0,9.2 -2.1,-0.3 -3.6,-5.3 -5.9,-4.2 -1.4,-0.3 -8.1,5.7 -5.1,2.3 0,-7.7 2.1,-0.3 0,-7.1 -9.5,-8 -1.8,-2.4 -3.9,-0.9 0,-1.5 20.3,0 0.4,-2.4 2,-5.3 1.9,-3.9zM1311.6,1324.6l3.6,0 0.2,8.9 1.9,1 0,5.4 20.5,0 0,1.5 -5.3,3.3 -10.1,8 0,7.4 2.1,0.6 0,9.2 -2.1,-0.3 -3.6,-5.3 -5.9,-4.2 -1.4,-0.3 -8.1,5.7 -5.1,2.3 0,-7.7 2.1,-0.3 0,-7.1 -9.5,-8 -1.8,-2.4 -3.9,-0.9 0,-1.5 20.3,0 0.4,-2.4 2,-5.3 1.9,-3.9zM1328.9,1324.6l3.6,0 0.2,8.9 1.9,1 0,5.4 20.5,0 0,1.5 -5.3,3.3 -10.1,8 0,7.4 2.1,0.6 0,9.2 -2.1,-0.3 -3.6,-5.3 -5.9,-4.2 -1.4,-0.3 -8.1,5.7 -5.1,2.3 0,-7.7 2.1,-0.3 0,-7.1 -9.5,-8 -1.8,-2.4 -3.9,-0.9 0,-1.5 20.3,0 0.4,-2.4 2,-5.3 1.9,-3.9zM1346.1,1324.6l3.6,0 0.2,8.9 1.9,1 0,5.4 20.5,0 0,1.5 -5.3,3.3 -10.1,8 0,7.4 2.1,0.6 0,9.2 -2.1,-0.3 -3.6,-5.3 -5.9,-4.2 -1.4,-0.3 -8.1,5.7 -5.1,2.3 0,-7.7 2.1,-0.3 0,-7.1 -9.5,-8 -1.8,-2.4 -3.9,-0.9 0,-1.5 20.3,0 0.4,-2.4 2,-5.3 1.9,-3.9zM1363.4,1324.6l3.6,0 0.2,8.9 1.9,1 0,5.4 20.5,0 0,1.5 -5.3,3.3 -10.1,8 0,7.4 2.1,0.6 0,9.2 -2.1,-0.3 -3.6,-5.3 -5.9,-4.2 -1.4,-0.3 -8.1,5.7 -5.1,2.3 0,-7.7 2.1,-0.3 0,-7.1 -9.5,-8 -1.8,-2.4 -3.9,-0.9 0,-1.5 20.3,0 0.4,-2.4 2,-5.3 1.9,-3.9zM1380.6,1324.6l3.6,0 0.2,8.9 1.9,1 0,5.4 20.5,0 0,1.5 -5.3,3.3 -10.1,8 0,7.4 2.1,0.6 0,9.2 -2.1,-0.3 -3.6,-5.3 -5.9,-4.2 -1.4,-0.3 -8.1,5.7 -5.1,2.3 0,-7.7 2.1,-0.3 0,-7.1 -9.5,-8 -1.8,-2.4 -3.9,-0.9 0,-1.5 20.3,0 0.4,-2.4 2,-5.3 1.9,-3.9zM1397.9,1324.6l3.6,0 0.2,8.9 1.9,1 0,5.4 20.5,0 0,1.5 -5.3,3.3 -10.1,8 0,7.4 2.1,0.6 0,9.2 -2.1,-0.3 -3.6,-5.3 -5.9,-4.2 -1.4,-0.3 -8.1,5.7 -5.1,2.3 0,-7.7 2.1,-0.3 0,-7.1 -9.5,-8 -1.8,-2.4 -3.9,-0.9 0,-1.5 20.3,0 0.4,-2.4 2,-5.3 1.9,-3.9zM1415.1,1324.6l3.6,0 0.2,8.9 1.9,1 0,5.4 20.5,0 0,1.5 -5.3,3.3 -10.1,8 0,7.4 2.1,0.6 0,9.2 -2.1,-0.3 -3.6,-5.3 -5.9,-4.2 -1.4,-0.3 -8.1,5.7 -5.1,2.3 0,-7.7 2.1,-0.3 0,-7.1 -9.5,-8 -1.8,-2.4 -3.9,-0.9 0,-1.5 20.3,0 0.4,-2.4 2,-5.3 1.9,-3.9zM1432.4,1324.6l3.6,0 0.2,8.9 1.9,1 0,5.4 20.5,0 0,1.5 -5.3,3.3 -10.1,8 0,7.4 2.1,0.6 0,9.2 -2.1,-0.3 -3.6,-5.3 -5.9,-4.2 -1.4,-0.3 -8.1,5.7 -5.1,2.3 0,-7.7 2.1,-0.3 0,-7.1 -9.5,-8 -1.8,-2.4 -3.9,-0.9 0,-1.5 20.3,0 0.4,-2.4 2,-5.3 1.9,-3.9zM1449.6,1324.6l3.6,0 0.2,8.9 1.9,1 0,5.4 20.5,0 0,1.5 -5.3,3.3 -10.1,8 0,7.4 2.1,0.6 0,9.2 -2.1,-0.3 -3.6,-5.3 -5.9,-4.2 -1.4,-0.3 -8.1,5.7 -5.1,2.3 0,-7.7 2.1,-0.3 0,-7.1 -9.5,-8 -1.8,-2.4 -3.9,-0.9 0,-1.5 20.3,0 0.4,-2.4 2,-5.3 1.9,-3.9zM1466.8,1324.6l3.6,0 0.2,8.9 1.9,1 0,5.4 20.5,0 0,1.5 -5.3,3.3 -10.1,8 0,7.4 2.1,0.6 0,9.2 -2.1,-0.3 -3.6,-5.3 -5.9,-4.2 -1.4,-0.3 -8.1,5.7 -5.1,2.3 0,-7.7 2.1,-0.3 0,-7.1 -9.5,-8 -1.8,-2.4 -3.9,-0.9 0,-1.5 20.3,0 0.4,-2.4 2,-5.3 1.9,-3.9zM1484.1,1324.6l3.6,0 0.2,8.9 1.9,1 0,5.4 20.5,0 0,1.5 -5.3,3.3 -10.1,8 0,7.4 2.1,0.6 0,9.2 -2.1,-0.3 -3.6,-5.3 -5.9,-4.2 -1.4,-0.3 -8.1,5.7 -5.1,2.3 0,-7.7 2.1,-0.3 0,-7.1 -9.5,-8 -1.8,-2.4 -3.9,-0.9 0,-1.5 20.3,0 0.4,-2.4 2,-5.3 1.9,-3.9zM1501.3,1324.6l3.6,0 0.2,8.9 1.9,1 0,5.4 20.5,0 0,1.5 -5.3,3.3 -10.1,8 0,7.4 2.1,0.6 0,9.2 -2.1,-0.3 -3.6,-5.3 -5.9,-4.2 -1.4,-0.3 -8.1,5.7 -5.1,2.3 0,-7.7 2.1,-0.3 0,-7.1 -9.5,-8 -1.8,-2.4 -3.9,-0.9 0,-1.5 20.3,0 0.4,-2.4 2,-5.3 1.9,-3.9zM1518.6,1324.6l3.6,0 0.2,8.9 1.9,1 0,5.4 20.5,0 0,1.5 -5.3,3.3 -10.1,8 0,7.4 2.1,0.6 0,9.2 -2.1,-0.3 -3.6,-5.3 -5.9,-4.2 -1.4,-0.3 -8.1,5.7 -5.1,2.3 0,-7.7 2.1,-0.3 0,-7.1 -9.5,-8 -1.8,-2.4 -3.9,-0.9 0,-1.5 20.3,0 0.4,-2.4 2,-5.3 1.9,-3.9zM1535.8,1324.6l3.6,0 0.2,8.9 1.9,1 0,5.4 20.5,0 0,1.5 -5.3,3.3 -10.1,8 0,7.4 2.1,0.6 0,9.2 -2.1,-0.3 -3.6,-5.3 -5.9,-4.2 -1.4,-0.3 -8.1,5.7 -5.1,2.3 0,-7.7 2.1,-0.3 0,-7.1 -9.5,-8 -1.8,-2.4 -3.9,-0.9 0,-1.5 20.3,0 0.4,-2.4 2,-5.3 1.9,-3.9zM1553.1,1324.6l3.6,0 0.2,8.9 1.9,1 0,5.4 20.5,0 0,1.5 -5.3,3.3 -10.1,8 0,7.4 2.1,0.6 0,9.2 -2.1,-0.3 -3.6,-5.3 -5.9,-4.2 -1.4,-0.3 -8.1,5.7 -5.1,2.3 0,-7.7 2.1,-0.3 0,-7.1 -9.5,-8 -1.8,-2.4 -3.9,-0.9 0,-1.5 20.3,0 0.4,-2.4 2,-5.3 1.9,-3.9zM1570.3,1324.6l3.6,0 0.2,8.9 1.9,1 0,5.4 20.5,0 0,1.5 -5.3,3.3 -10.1,8 0,7.4 2.1,0.6 0,9.2 -2.1,-0.3 -3.6,-5.3 -5.9,-4.2 -1.4,-0.3 -8.1,5.7 -5.1,2.3 0,-7.7 2.1,-0.3 0,-7.1 -9.5,-8 -1.8,-2.4 -3.9,-0.9 0,-1.5 20.3,0 0.4,-2.4 2,-5.3 1.9,-3.9zM1587.6,1324.6l3.6,0 0.2,8.9 1.9,1 0,5.4 20.5,0 0,1.5 -5.3,3.3 -10.1,8 0,7.4 2.1,0.6 0,9.2 -2.1,-0.3 -3.6,-5.3 -5.9,-4.2 -1.4,-0.3 -8.1,5.7 -5.1,2.3 0,-7.7 2.1,-0.3 0,-7.1 -9.5,-8 -1.8,-2.4 -3.9,-0.9 0,-1.5 20.3,0 0.4,-2.4 2,-5.3 1.9,-3.9zM1604.8,1324.6l3.6,0 0.2,8.9 1.9,1 0,5.4 20.5,0 0,1.5 -5.3,3.3 -10.1,8 0,7.4 2.1,0.6 0,9.2 -2.1,-0.3 -3.6,-5.3 -5.9,-4.2 -1.4,-0.3 -8.1,5.7 -5.1,2.3 0,-7.7 2.1,-0.3 0,-7.1 -9.5,-8 -1.8,-2.4 -3.9,-0.9 0,-1.5 20.3,0 0.4,-2.4 2,-5.3 1.9,-3.9zM1622.1,1324.6l3.6,0 0.2,8.9 1.9,1 0,5.4 20.5,0 0,1.5 -5.3,3.3 -10.1,8 0,7.4 2.1,0.6 0,9.2 -2.1,-0.3 -3.6,-5.3 -5.9,-4.2 -1.4,-0.3 -8.1,5.7 -5.1,2.3 0,-7.7 2.1,-0.3 0,-7.1 -9.5,-8 -1.8,-2.4 -3.9,-0.9 0,-1.5 20.3,0 0.4,-2.4 2,-5.3 1.9,-3.9zM1639.3,1324.6l3.6,0 0.2,8.9 1.9,1 0,5.4 20.5,0 0,1.5 -5.3,3.3 -10.1,8 0,7.4 2.1,0.6 0,9.2 -2.1,-0.3 -3.6,-5.3 -5.9,-4.2 -1.4,-0.3 -8.1,5.7 -5.1,2.3 0,-7.7 2.1,-0.3 0,-7.1 -9.5,-8 -1.8,-2.4 -3.9,-0.9 0,-1.5 20.3,0 0.4,-2.4 2,-5.3 1.9,-3.9zM1656.5,1324.6l3.6,0 0.2,8.9 1.9,1 0,5.4 20.5,0 0,1.5 -5.3,3.3 -10.1,8 0,7.4 2.1,0.6 0,9.2 -2.1,-0.3 -3.6,-5.3 -5.9,-4.2 -1.4,-0.3 -8.1,5.7 -5.1,2.3 0,-7.7 2.1,-0.3 0,-7.1 -9.5,-8 -1.8,-2.4 -3.9,-0.9 0,-1.5 20.3,0 0.4,-2.4 2,-5.3 1.9,-3.9zM1673.8,1324.6l3.6,0 0.2,8.9 1.9,1 0,5.4 20.5,0 0,1.5 -5.3,3.3 -10.1,8 0,7.4 2.1,0.6 0,9.2 -2.1,-0.3 -3.6,-5.3 -5.9,-4.2 -1.4,-0.3 -8.1,5.7 -5.1,2.3 0,-7.7 2.1,-0.3 0,-7.1 -9.5,-8 -1.8,-2.4 -3.9,-0.9 0,-1.5 20.3,0 0.4,-2.4 2,-5.3 1.9,-3.9zM1691,1324.6l3.6,0 0.2,8.9 1.9,1 0,5.4 20.5,0 0,1.5 -5.3,3.3 -10.1,8 0,7.4 2.1,0.6 0,9.2 -2.1,-0.3 -3.6,-5.3 -5.9,-4.2 -1.4,-0.3 -8.1,5.7 -5.1,2.3 0,-7.7 2.1,-0.3 0,-7.1 -9.5,-8 -1.8,-2.4 -3.9,-0.9 0,-1.5 20.3,0 0.4,-2.4 2,-5.3 1.9,-3.9zM1708.3,1324.6l3.6,0 0.2,8.9 1.9,1 0,5.4 20.5,0 0,1.5 -5.3,3.3 -10.1,8 0,7.4 2.1,0.6 0,9.2 -2.1,-0.3 -3.6,-5.3 -5.9,-4.2 -1.4,-0.3 -8.1,5.7 -5.1,2.3 0,-7.7 2.1,-0.3 0,-7.1 -9.5,-8 -1.8,-2.4 -3.9,-0.9 0,-1.5 20.3,0 0.4,-2.4 2,-5.3 1.9,-3.9zM1725.5,1324.6l3.6,0 0.2,8.9 1.9,1 0,5.4 20.5,0 0,1.5 -5.3,3.3 -10.1,8 0,7.4 2.1,0.6 0,9.2 -2.1,-0.3 -3.6,-5.3 -5.9,-4.2 -1.4,-0.3 -8.1,5.7 -5.1,2.3 0,-7.7 2.1,-0.3 0,-7.1 -9.5,-8 -1.8,-2.4 -3.9,-0.9 0,-1.5 20.3,0 0.4,-2.4 2,-5.3 1.9,-3.9zM1742.8,1324.6l3.6,0 0.2,8.9 1.9,1 0,5.4 20.5,0 0,1.5 -5.3,3.3 -10.1,8 0,7.4 2.1,0.6 0,9.2 -2.1,-0.3 -3.6,-5.3 -5.9,-4.2 -1.4,-0.3 -8.1,5.7 -5.1,2.3 0,-7.7 2.1,-0.3 0,-7.1 -9.5,-8 -1.8,-2.4 -3.9,-0.9 0,-1.5 20.3,0 0.4,-2.4 2,-5.3 1.9,-3.9zM1760,1324.6l3.6,0 0.2,8.9 1.9,1 0,5.4 20.5,0 0,1.5 -5.3,3.3 -10.1,8 0,7.4 2.1,0.6 0,9.2 -2.1,-0.3 -3.6,-5.3 -5.9,-4.2 -1.4,-0.3 -8.1,5.7 -5.1,2.3 0,-7.7 2.1,-0.3 0,-7.1 -9.5,-8 -1.8,-2.4 -3.9,-0.9 0,-1.5 20.3,0 0.4,-2.4 2,-5.3 1.9,-3.9zM1777.3,1324.6l3.6,0 0.2,8.9 1.9,1 0,5.4 20.5,0 0,1.5 -5.3,3.3 -10.1,8 0,7.4 2.1,0.6 0,9.2 -2.1,-0.3 -3.6,-5.3 -5.9,-4.2 -1.4,-0.3 -8.1,5.7 -5.1,2.3 0,-7.7 2.1,-0.3 0,-7.1 -9.5,-8 -1.8,-2.4 -3.9,-0.9 0,-1.5 20.3,0 0.4,-2.4 2,-5.3 1.9,-3.9zM1794.5,1324.6l3.6,0 0.2,8.9 1.9,1 0,5.4 20.5,0 0,1.5 -5.3,3.3 -10.1,8 0,7.4 2.1,0.6 0,9.2 -2.1,-0.3 -3.6,-5.3 -5.9,-4.2 -1.4,-0.3 -8.1,5.7 -5.1,2.3 0,-7.7 2.1,-0.3 0,-7.1 -9.5,-8 -1.8,-2.4 -3.9,-0.9 0,-1.5 20.3,0 0.4,-2.4 2,-5.3 1.9,-3.9zM1811.8,1324.6l3.6,0 0.2,8.9 1.9,1 0,5.4 20.5,0 0,1.5 -5.3,3.3 -10.1,8 0,7.4 2.1,0.6 0,9.2 -2.1,-0.3 -3.6,-5.3 -5.9,-4.2 -1.4,-0.3 -8.1,5.7 -5.1,2.3 0,-7.7 2.1,-0.3 0,-7.1 -9.5,-8 -1.8,-2.4 -3.9,-0.9 0,-1.5 20.3,0 0.4,-2.4 2,-5.3 1.9,-3.9zM1829,1324.6l3.6,0 0.2,8.9 1.9,1 0,5.4 20.5,0 0,1.5 -5.3,3.3 -10.1,8 0,7.4 2.1,0.6 0,9.2 -2.1,-0.3 -3.6,-5.3 -5.9,-4.2 -1.4,-0.3 -8.1,5.7 -5.1,2.3 0,-7.7 2.1,-0.3 0,-7.1 -9.5,-8 -1.8,-2.4 -3.9,-0.9 0,-1.5 20.3,0 0.4,-2.4 2,-5.3 1.9,-3.9zM1846.2,1324.6l3.6,0 0.2,8.9 1.9,1 0,5.4 20.5,0 0,1.5 -5.3,3.3 -10.1,8 0,7.4 2.1,0.6 0,9.2 -2.1,-0.3 -3.6,-5.3 -5.9,-4.2 -1.4,-0.3 -8.1,5.7 -5.1,2.3 0,-7.7 2.1,-0.3 0,-7.1 -9.5,-8 -1.8,-2.4 -3.9,-0.9 0,-1.5 20.3,0 0.4,-2.4 2,-5.3 1.9,-3.9zM1863.5,1324.6l3.6,0 0.2,8.9 1.9,1 0,5.4 20.5,0 0,1.5 -5.3,3.3 -10.1,8 0,7.4 2.1,0.6 0,9.2 -2.1,-0.3 -3.6,-5.3 -5.9,-4.2 -1.4,-0.3 -8.1,5.7 -5.1,2.3 0,-7.7 2.1,-0.3 0,-7.1 -9.5,-8 -1.8,-2.4 -3.9,-0.9 0,-1.5 20.3,0 0.4,-2.4 2,-5.3 1.9,-3.9zM1880.7,1324.6l3.6,0 0.2,8.9 1.9,1 0,5.4 20.5,0 0,1.5 -5.3,3.3 -10.1,8 0,7.4 2.1,0.6 0,9.2 -2.1,-0.3 -3.6,-5.3 -5.9,-4.2 -1.4,-0.3 -8.1,5.7 -5.1,2.3 0,-7.7 2.1,-0.3 0,-7.1 -9.5,-8 -1.8,-2.4 -3.9,-0.9 0,-1.5 20.3,0 0.4,-2.4 2,-5.3 1.9,-3.9zM1898,1324.6l3.6,0 0.2,8.9 1.9,1 0,5.4 20.5,0 0,1.5 -5.3,3.3 -10.1,8 0,7.4 2.1,0.6 0,9.2 -2.1,-0.3 -3.6,-5.3 -5.9,-4.2 -1.4,-0.3 -8.1,5.7 -5.1,2.3 0,-7.7 2.1,-0.3 0,-7.1 -9.5,-8 -1.8,-2.4 -3.9,-0.9 0,-1.5 20.3,0 0.4,-2.4 2,-5.3 1.9,-3.9zM1915.2,1324.6l3.6,0 0.2,8.9 1.9,1 0,5.4 20.5,0 0,1.5 -5.3,3.3 -10.1,8 0,7.4 2.1,0.6 0,9.2 -2.1,-0.3 -3.6,-5.3 -5.9,-4.2 -1.4,-0.3 -8.1,5.7 -5.1,2.3 0,-7.7 2.1,-0.3 0,-7.1 -9.5,-8 -1.8,-2.4 -3.9,-0.9 0,-1.5 20.3,0 0.4,-2.4 2,-5.3 1.9,-3.9zM1932.5,1324.6l3.6,0 0.2,8.9 1.9,1 0,5.4 20.5,0 0,1.5 -5.3,3.3 -10.1,8 0,7.4 2.1,0.6 0,9.2 -2.1,-0.3 -3.6,-5.3 -5.9,-4.2 -1.4,-0.3 -8.1,5.7 -5.1,2.3 0,-7.7 2.1,-0.3 0,-7.1 -9.5,-8 -1.8,-2.4 -3.9,-0.9 0,-1.5 20.3,0 0.4,-2.4 2,-5.3 1.9,-3.9zM1949.7,1324.6l3.6,0 0.2,8.9 1.9,1 0,5.4 20.5,0 0,1.5 -5.3,3.3 -10.1,8 0,7.4 2.1,0.6 0,9.2 -2.1,-0.3 -3.6,-5.3 -5.9,-4.2 -1.4,-0.3 -8.1,5.7 -5.1,2.3 0,-7.7 2.1,-0.3 0,-7.1 -9.5,-8 -1.8,-2.4 -3.9,-0.9 0,-1.5 20.3,0 0.4,-2.4 2,-5.3 1.9,-3.9zM1967,1324.6l3.6,0 0.2,8.9 1.9,1 0,5.4 20.5,0 0,1.5 -5.3,3.3 -10.1,8 0,7.4 2.1,0.6 0,9.2 -2.1,-0.3 -3.6,-5.3 -5.9,-4.2 -1.4,-0.3 -8.1,5.7 -5.1,2.3 0,-7.7 2.1,-0.3 0,-7.1 -9.5,-8 -1.8,-2.4 -3.9,-0.9 0,-1.5 20.3,0 0.4,-2.4 2,-5.3 1.9,-3.9zM1984.2,1324.6l3.6,0 0.2,8.9 1.9,1 0,5.4 20.5,0 0,1.5 -5.3,3.3 -10.1,8 0,7.4 2.1,0.6 0,9.2 -2.1,-0.3 -3.6,-5.3 -5.9,-4.2 -1.4,-0.3 -8.1,5.7 -5.1,2.3 0,-7.7 2.1,-0.3 0,-7.1 -9.5,-8 -1.8,-2.4 -3.9,-0.9 0,-1.5 20.3,0 0.4,-2.4 2,-5.3 1.9,-3.9z"/>
<path class="st" d="M413.6,1041l0.2,-8.7h1.9l0.9,8.7z"/>
</g>
<g id="series-cmeaco">
<polyline class="ln m" points="276.8,875.2 294.1,1024.4 311.3,1092.8 328.6,1223.5 345.8,1223.5 363.1,1223.5 380.3,1295.9 397.6,1328.4 414.8,1359.5 432.1,1359.5 449.3,1359.5 466.5,1359.5 483.8,1359.5 501,1359.5 518.3,1359.5 535.5,1359.5 552.8,1359.5 570,1359.5 587.3,1359.5 604.5,1359.5 621.7,1359.5 639,1359.5 656.2,1359.5 673.5,1359.5 690.7,1359.5 708,1359.5 725.2,1359.5 742.5,1359.5 759.7,1359.5 777,1359.5 794.2,1359.5 811.4,1359.5 828.7,1359.5 845.9,1359.5 863.2,1359.5 880.4,1359.5 897.7,1359.5 914.9,1359.5 932.2,1359.5 949.4,1359.5 966.6,1359.5 983.9,1359.5 1001.1,1359.5 1018.4,1359.5 1035.6,1359.5 1052.9,1359.5 1070.1,1359.5 1087.4,1359.5 1104.6,1359.5 1121.8,1359.5 1139.1,1359.5 1156.3,1359.5 1173.6,1359.5 1190.8,1359.5 1208.1,1359.5 1225.3,1359.5 1242.6,1359.5 1259.8,1359.5 1277.1,1359.5 1294.3,1359.5 1311.5,1359.5 1328.8,1359.5 1346,1359.5 1363.3,1359.5 1380.5,1359.5 1397.8,1359.5 1415,1359.5 1432.3,1359.5 1449.5,1359.5 1466.8,1359.5 1484,1359.5 1501.2,1359.5 1518.5,1359.5 1535.7,1359.5 1553,1359.5 1570.2,1359.5 1587.5,1359.5 1604.7,1359.5 1622,1359.5 1639.2,1359.5 1656.4,1359.5 1673.7,1359.5 1690.9,1359.5 1708.2,1359.5 1725.4,1359.5 1742.7,1359.5 1759.9,1359.5 1777.2,1359.5 1794.4,1359.5 1811.7,1359.5 1828.9,1359.5 1846.1,1359.5 1863.4,1359.5 1880.6,1359.5 1897.9,1359.5 1915.1,1359.5 1932.4,1359.5 1949.6,1359.5 1966.9,1359.5 1984.1,1359.5"/>
<path class="mk m" d="M261.3,875.2h31M276.8,859.7v31M267.8,866.2l18,18M267.8,884.2l18,-18M269.3,875.2a7.5,7.5 0 1,0 15,0a7.5,7.5 0 1,0 -15,0M278.6,1024.4h31M294.1,1008.9v31M285.1,1015.4l18,18M285.1,1033.4l18,-18M286.6,1024.4a7.5,7.5 0 1,0 15,0a7.5,7.5 0 1,0 -15,0M295.8,1092.8h31M311.3,1077.3v31M302.3,1083.8l18,18M302.3,1101.8l18,-18M303.8,1092.8a7.5,7.5 0 1,0 15,0a7.5,7.5 0 1,0 -15,0M313.1,1223.5h31M328.6,1208v31M319.6,1214.5l18,18M319.6,1232.5l18,-18M321.1,1223.5a7.5,7.5 0 1,0 15,0a7.5,7.5 0 1,0 -15,0M330.3,1223.5h31M345.8,1208v31M336.8,1214.5l18,18M336.8,1232.5l18,-18M338.3,1223.5a7.5,7.5 0 1,0 15,0a7.5,7.5 0 1,0 -15,0M347.6,1223.5h31M363.1,1208v31M354.1,1214.5l18,18M354.1,1232.5l18,-18M355.6,1223.5a7.5,7.5 0 1,0 15,0a7.5,7.5 0 1,0 -15,0M364.8,1295.9h31M380.3,1280.4v31M371.3,1286.9l18,18M371.3,1304.9l18,-18M372.8,1295.9a7.5,7.5 0 1,0 15,0a7.5,7.5 0 1,0 -15,0M382.1,1328.4h31M397.6,1312.9v31M388.6,1319.4l18,18M388.6,1337.4l18,-18M390.1,1328.4a7.5,7.5 0 1,0 15,0a7.5,7.5 0 1,0 -15,0M399.3,1359.5h31M414.8,1344v31M405.8,1350.5l18,18M405.8,1368.5l18,-18M407.3,1359.5a7.5,7.5 0 1,0 15,0a7.5,7.5 0 1,0 -15,0M416.6,1359.5h31M432.1,1344v31M423.1,1350.5l18,18M423.1,1368.5l18,-18M424.6,1359.5a7.5,7.5 0 1,0 15,0a7.5,7.5 0 1,0 -15,0M433.8,1359.5h31M449.3,1344v31M440.3,1350.5l18,18M440.3,1368.5l18,-18M441.8,1359.5a7.5,7.5 0 1,0 15,0a7.5,7.5 0 1,0 -15,0M451,1359.5h31M466.5,1344v31M457.5,1350.5l18,18M457.5,1368.5l18,-18M459,1359.5a7.5,7.5 0 1,0 15,0a7.5,7.5 0 1,0 -15,0M468.3,1359.5h31M483.8,1344v31M474.8,1350.5l18,18M474.8,1368.5l18,-18M476.3,1359.5a7.5,7.5 0 1,0 15,0a7.5,7.5 0 1,0 -15,0M485.5,1359.5h31M501,1344v31M492,1350.5l18,18M492,1368.5l18,-18M493.5,1359.5a7.5,7.5 0 1,0 15,0a7.5,7.5 0 1,0 -15,0M502.8,1359.5h31M518.3,1344v31M509.3,1350.5l18,18M509.3,1368.5l18,-18M510.8,1359.5a7.5,7.5 0 1,0 15,0a7.5,7.5 0 1,0 -15,0M520,1359.5h31M535.5,1344v31M526.5,1350.5l18,18M526.5,1368.5l18,-18M528,1359.5a7.5,7.5 0 1,0 15,0a7.5,7.5 0 1,0 -15,0M537.3,1359.5h31M552.8,1344v31M543.8,1350.5l18,18M543.8,1368.5l18,-18M545.3,1359.5a7.5,7.5 0 1,0 15,0a7.5,7.5 0 1,0 -15,0M554.5,1359.5h31M570,1344v31M561,1350.5l18,18M561,1368.5l18,-18M562.5,1359.5a7.5,7.5 0 1,0 15,0a7.5,7.5 0 1,0 -15,0M571.8,1359.5h31M587.3,1344v31M578.3,1350.5l18,18M578.3,1368.5l18,-18M579.8,1359.5a7.5,7.5 0 1,0 15,0a7.5,7.5 0 1,0 -15,0M589,1359.5h31M604.5,1344v31M595.5,1350.5l18,18M595.5,1368.5l18,-18M597,1359.5a7.5,7.5 0 1,0 15,0a7.5,7.5 0 1,0 -15,0M606.2,1359.5h31M621.7,1344v31M612.7,1350.5l18,18M612.7,1368.5l18,-18M614.2,1359.5a7.5,7.5 0 1,0 15,0a7.5,7.5 0 1,0 -15,0M623.5,1359.5h31M639,1344v31M630,1350.5l18,18M630,1368.5l18,-18M631.5,1359.5a7.5,7.5 0 1,0 15,0a7.5,7.5 0 1,0 -15,0M640.7,1359.5h31M656.2,1344v31M647.2,1350.5l18,18M647.2,1368.5l18,-18M648.7,1359.5a7.5,7.5 0 1,0 15,0a7.5,7.5 0 1,0 -15,0M658,1359.5h31M673.5,1344v31M664.5,1350.5l18,18M664.5,1368.5l18,-18M666,1359.5a7.5,7.5 0 1,0 15,0a7.5,7.5 0 1,0 -15,0M675.2,1359.5h31M690.7,1344v31M681.7,1350.5l18,18M681.7,1368.5l18,-18M683.2,1359.5a7.5,7.5 0 1,0 15,0a7.5,7.5 0 1,0 -15,0M692.5,1359.5h31M708,1344v31M699,1350.5l18,18M699,1368.5l18,-18M700.5,1359.5a7.5,7.5 0 1,0 15,0a7.5,7.5 0 1,0 -15,0M709.7,1359.5h31M725.2,1344v31M716.2,1350.5l18,18M716.2,1368.5l18,-18M717.7,1359.5a7.5,7.5 0 1,0 15,0a7.5,7.5 0 1,0 -15,0M727,1359.5h31M742.5,1344v31M733.5,1350.5l18,18M733.5,1368.5l18,-18M735,1359.5a7.5,7.5 0 1,0 15,0a7.5,7.5 0 1,0 -15,0M744.2,1359.5h31M759.7,1344v31M750.7,1350.5l18,18M750.7,1368.5l18,-18M752.2,1359.5a7.5,7.5 0 1,0 15,0a7.5,7.5 0 1,0 -15,0M761.5,1359.5h31M777,1344v31M768,1350.5l18,18M768,1368.5l18,-18M769.5,1359.5a7.5,7.5 0 1,0 15,0a7.5,7.5 0 1,0 -15,0M778.7,1359.5h31M794.2,1344v31M785.2,1350.5l18,18M785.2,1368.5l18,-18M786.7,1359.5a7.5,7.5 0 1,0 15,0a7.5,7.5 0 1,0 -15,0M795.9,1359.5h31M811.4,1344v31M802.4,1350.5l18,18M802.4,1368.5l18,-18M803.9,1359.5a7.5,7.5 0 1,0 15,0a7.5,7.5 0 1,0 -15,0M813.2,1359.5h31M828.7,1344v31M819.7,1350.5l18,18M819.7,1368.5l18,-18M821.2,1359.5a7.5,7.5 0 1,0 15,0a7.5,7.5 0 1,0 -15,0M830.4,1359.5h31M845.9,1344v31M836.9,1350.5l18,18M836.9,1368.5l18,-18M838.4,1359.5a7.5,7.5 0 1,0 15,0a7.5,7.5 0 1,0 -15,0M847.7,1359.5h31M863.2,1344v31M854.2,1350.5l18,18M854.2,1368.5l18,-18M855.7,1359.5a7.5,7.5 0 1,0 15,0a7.5,7.5 0 1,0 -15,0M864.9,1359.5h31M880.4,1344v31M871.4,1350.5l18,18M871.4,1368.5l18,-18M872.9,1359.5a7.5,7.5 0 1,0 15,0a7.5,7.5 0 1,0 -15,0M882.2,1359.5h31M897.7,1344v31M888.7,1350.5l18,18M888.7,1368.5l18,-18M890.2,1359.5a7.5,7.5 0 1,0 15,0a7.5,7.5 0 1,0 -15,0M899.4,1359.5h31M914.9,1344v31M905.9,1350.5l18,18M905.9,1368.5l18,-18M907.4,1359.5a7.5,7.5 0 1,0 15,0a7.5,7.5 0 1,0 -15,0M916.7,1359.5h31M932.2,1344v31M923.2,1350.5l18,18M923.2,1368.5l18,-18M924.7,1359.5a7.5,7.5 0 1,0 15,0a7.5,7.5 0 1,0 -15,0M933.9,1359.5h31M949.4,1344v31M940.4,1350.5l18,18M940.4,1368.5l18,-18M941.9,1359.5a7.5,7.5 0 1,0 15,0a7.5,7.5 0 1,0 -15,0M951.1,1359.5h31M966.6,1344v31M957.6,1350.5l18,18M957.6,1368.5l18,-18M959.1,1359.5a7.5,7.5 0 1,0 15,0a7.5,7.5 0 1,0 -15,0M968.4,1359.5h31M983.9,1344v31M974.9,1350.5l18,18M974.9,1368.5l18,-18M976.4,1359.5a7.5,7.5 0 1,0 15,0a7.5,7.5 0 1,0 -15,0M985.6,1359.5h31M1001.1,1344v31M992.1,1350.5l18,18M992.1,1368.5l18,-18M993.6,1359.5a7.5,7.5 0 1,0 15,0a7.5,7.5 0 1,0 -15,0M1002.9,1359.5h31M1018.4,1344v31M1009.4,1350.5l18,18M1009.4,1368.5l18,-18M1010.9,1359.5a7.5,7.5 0 1,0 15,0a7.5,7.5 0 1,0 -15,0M1020.1,1359.5h31M1035.6,1344v31M1026.6,1350.5l18,18M1026.6,1368.5l18,-18M1028.1,1359.5a7.5,7.5 0 1,0 15,0a7.5,7.5 0 1,0 -15,0M1037.4,1359.5h31M1052.9,1344v31M1043.9,1350.5l18,18M1043.9,1368.5l18,-18M1045.4,1359.5a7.5,7.5 0 1,0 15,0a7.5,7.5 0 1,0 -15,0M1054.6,1359.5h31M1070.1,1344v31M1061.1,1350.5l18,18M1061.1,1368.5l18,-18M1062.6,1359.5a7.5,7.5 0 1,0 15,0a7.5,7.5 0 1,0 -15,0M1071.9,1359.5h31M1087.4,1344v31M1078.4,1350.5l18,18M1078.4,1368.5l18,-18M1079.9,1359.5a7.5,7.5 0 1,0 15,0a7.5,7.5 0 1,0 -15,0M1089.1,1359.5h31M1104.6,1344v31M1095.6,1350.5l18,18M1095.6,1368.5l18,-18M1097.1,1359.5a7.5,7.5 0 1,0 15,0a7.5,7.5 0 1,0 -15,0M1106.3,1359.5h31M1121.8,1344v31M1112.8,1350.5l18,18M1112.8,1368.5l18,-18M1114.3,1359.5a7.5,7.5 0 1,0 15,0a7.5,7.5 0 1,0 -15,0M1123.6,1359.5h31M1139.1,1344v31M1130.1,1350.5l18,18M1130.1,1368.5l18,-18M1131.6,1359.5a7.5,7.5 0 1,0 15,0a7.5,7.5 0 1,0 -15,0M1140.8,1359.5h31M1156.3,1344v31M1147.3,1350.5l18,18M1147.3,1368.5l18,-18M1148.8,1359.5a7.5,7.5 0 1,0 15,0a7.5,7.5 0 1,0 -15,0M1158.1,1359.5h31M1173.6,1344v31M1164.6,1350.5l18,18M1164.6,1368.5l18,-18M1166.1,1359.5a7.5,7.5 0 1,0 15,0a7.5,7.5 0 1,0 -15,0M1175.3,1359.5h31M1190.8,1344v31M1181.8,1350.5l18,18M1181.8,1368.5l18,-18M1183.3,1359.5a7.5,7.5 0 1,0 15,0a7.5,7.5 0 1,0 -15,0M1192.6,1359.5h31M1208.1,1344v31M1199.1,1350.5l18,18M1199.1,1368.5l18,-18M1200.6,1359.5a7.5,7.5 0 1,0 15,0a7.5,7.5 0 1,0 -15,0M1209.8,1359.5h31M1225.3,1344v31M1216.3,1350.5l18,18M1216.3,1368.5l18,-18M1217.8,1359.5a7.5,7.5 0 1,0 15,0a7.5,7.5 0 1,0 -15,0M1227.1,1359.5h31M1242.6,1344v31M1233.6,1350.5l18,18M1233.6,1368.5l18,-18M1235.1,1359.5a7.5,7.5 0 1,0 15,0a7.5,7.5 0 1,0 -15,0M1244.3,1359.5h31M1259.8,1344v31M1250.8,1350.5l18,18M1250.8,1368.5l18,-18M1252.3,1359.5a7.5,7.5 0 1,0 15,0a7.5,7.5 0 1,0 -15,0M1261.6,1359.5h31M1277.1,1344v31M1268.1,1350.5l18,18M1268.1,1368.5l18,-18M1269.6,1359.5a7.5,7.5 0 1,0 15,0a7.5,7.5 0 1,0 -15,0M1278.8,1359.5h31M1294.3,1344v31M1285.3,1350.5l18,18M1285.3,1368.5l18,-18M1286.8,1359.5a7.5,7.5 0 1,0 15,0a7.5,7.5 0 1,0 -15,0M1296,1359.5h31M1311.5,1344v31M1302.5,1350.5l18,18M1302.5,1368.5l18,-18M1304,1359.5a7.5,7.5 0 1,0 15,0a7.5,7.5 0 1,0 -15,0M1313.3,1359.5h31M1328.8,1344v31M1319.8,1350.5l18,18M1319.8,1368.5l18,-18M1321.3,1359.5a7.5,7.5 0 1,0 15,0a7.5,7.5 0 1,0 -15,0M1330.5,1359.5h31M1346,1344v31M1337,1350.5l18,18M1337,1368.5l18,-18M1338.5,1359.5a7.5,7.5 0 1,0 15,0a7.5,7.5 0 1,0 -15,0M1347.8,1359.5h31M1363.3,1344v31M1354.3,1350.5l18,18M1354.3,1368.5l18,-18M1355.8,1359.5a7.5,7.5 0 1,0 15,0a7.5,7.5 0 1,0 -15,0M1365,1359.5h31M1380.5,1344v31M1371.5,1350.5l18,18M1371.5,1368.5l18,-18M1373,1359.5a7.5,7.5 0 1,0 15,0a7.5,7.5 0 1,0 -15,0M1382.3,1359.5h31M1397.8,1344v31M1388.8,1350.5l18,18M1388.8,1368.5l18,-18M1390.3,1359.5a7.5,7.5 0 1,0 15,0a7.5,7.5 0 1,0 -15,0M1399.5,1359.5h31M1415,1344v31M1406,1350.5l18,18M1406,1368.5l18,-18M1407.5,1359.5a7.5,7.5 0 1,0 15,0a7.5,7.5 0 1,0 -15,0M1416.8,1359.5h31M1432.3,1344v31M1423.3,1350.5l18,18M1423.3,1368.5l18,-18M1424.8,1359.5a7.5,7.5 0 1,0 15,0a7.5,7.5 0 1,0 -15,0M1434,1359.5h31M1449.5,1344v31M1440.5,1350.5l18,18M1440.5,1368.5l18,-18M1442,1359.5a7.5,7.5 0 1,0 15,0a7.5,7.5 0 1,0 -15,0M1451.2,1359.5h31M1466.8,1344v31M1457.8,1350.5l18,18M1457.8,1368.5l18,-18M1459.2,1359.5a7.5,7.5 0 1,0 15,0a7.5,7.5 0 1,0 -15,0M1468.5,1359.5h31M1484,1344v31M1475,1350.5l18,18M1475,1368.5l18,-18M1476.5,1359.5a7.5,7.5 0 1,0 15,0a7.5,7.5 0 1,0 -15,0M1485.7,1359.5h31M1501.2,1344v31M1492.2,1350.5l18,18M1492.2,1368.5l18,-18M1493.7,1359.5a7.5,7.5 0 1,0 15,0a7.5,7.5 0 1,0 -15,0M1503,1359.5h31M1518.5,1344v31M1509.5,1350.5l18,18M1509.5,1368.5l18,-18M1511,1359.5a7.5,7.5 0 1,0 15,0a7.5,7.5 0 1,0 -15,0M1520.2,1359.5h31M1535.7,1344v31M1526.7,1350.5l18,18M1526.7,1368.5l18,-18M1528.2,1359.5a7.5,7.5 0 1,0 15,0a7.5,7.5 0 1,0 -15,0M1537.5,1359.5h31M1553,1344v31M1544,1350.5l18,18M1544,1368.5l18,-18M1545.5,1359.5a7.5,7.5 0 1,0 15,0a7.5,7.5 0 1,0 -15,0M1554.7,1359.5h31M1570.2,1344v31M1561.2,1350.5l18,18M1561.2,1368.5l18,-18M1562.7,1359.5a7.5,7.5 0 1,0 15,0a7.5,7.5 0 1,0 -15,0M1572,1359.5h31M1587.5,1344v31M1578.5,1350.5l18,18M1578.5,1368.5l18,-18M1580,1359.5a7.5,7.5 0 1,0 15,0a7.5,7.5 0 1,0 -15,0M1589.2,1359.5h31M1604.7,1344v31M1595.7,1350.5l18,18M1595.7,1368.5l18,-18M1597.2,1359.5a7.5,7.5 0 1,0 15,0a7.5,7.5 0 1,0 -15,0M1606.5,1359.5h31M1622,1344v31M1613,1350.5l18,18M1613,1368.5l18,-18M1614.5,1359.5a7.5,7.5 0 1,0 15,0a7.5,7.5 0 1,0 -15,0M1623.7,1359.5h31M1639.2,1344v31M1630.2,1350.5l18,18M1630.2,1368.5l18,-18M1631.7,1359.5a7.5,7.5 0 1,0 15,0a7.5,7.5 0 1,0 -15,0M1640.9,1359.5h31M1656.4,1344v31M1647.4,1350.5l18,18M1647.4,1368.5l18,-18M1648.9,1359.5a7.5,7.5 0 1,0 15,0a7.5,7.5 0 1,0 -15,0M1658.2,1359.5h31M1673.7,1344v31M1664.7,1350.5l18,18M1664.7,1368.5l18,-18M1666.2,1359.5a7.5,7.5 0 1,0 15,0a7.5,7.5 0 1,0 -15,0M1675.4,1359.5h31M1690.9,1344v31M1681.9,1350.5l18,18M1681.9,1368.5l18,-18M1683.4,1359.5a7.5,7.5 0 1,0 15,0a7.5,7.5 0 1,0 -15,0M1692.7,1359.5h31M1708.2,1344v31M1699.2,1350.5l18,18M1699.2,1368.5l18,-18M1700.7,1359.5a7.5,7.5 0 1,0 15,0a7.5,7.5 0 1,0 -15,0M1709.9,1359.5h31M1725.4,1344v31M1716.4,1350.5l18,18M1716.4,1368.5l18,-18M1717.9,1359.5a7.5,7.5 0 1,0 15,0a7.5,7.5 0 1,0 -15,0M1727.2,1359.5h31M1742.7,1344v31M1733.7,1350.5l18,18M1733.7,1368.5l18,-18M1735.2,1359.5a7.5,7.5 0 1,0 15,0a7.5,7.5 0 1,0 -15,0M1744.4,1359.5h31M1759.9,1344v31M1750.9,1350.5l18,18M1750.9,1368.5l18,-18M1752.4,1359.5a7.5,7.5 0 1,0 15,0a7.5,7.5 0 1,0 -15,0M1761.7,1359.5h31M1777.2,1344v31M1768.2,1350.5l18,18M1768.2,1368.5l18,-18M1769.7,1359.5a7.5,7.5 0 1,0 15,0a7.5,7.5 0 1,0 -15,0M1778.9,1359.5h31M1794.4,1344v31M1785.4,1350.5l18,18M1785.4,1368.5l18,-18M1786.9,1359.5a7.5,7.5 0 1,0 15,0a7.5,7.5 0 1,0 -15,0M1796.2,1359.5h31M1811.7,1344v31M1802.7,1350.5l18,18M1802.7,1368.5l18,-18M1804.2,1359.5a7.5,7.5 0 1,0 15,0a7.5,7.5 0 1,0 -15,0M1813.4,1359.5h31M1828.9,1344v31M1819.9,1350.5l18,18M1819.9,1368.5l18,-18M1821.4,1359.5a7.5,7.5 0 1,0 15,0a7.5,7.5 0 1,0 -15,0M1830.6,1359.5h31M1846.1,1344v31M1837.1,1350.5l18,18M1837.1,1368.5l18,-18M1838.6,1359.5a7.5,7.5 0 1,0 15,0a7.5,7.5 0 1,0 -15,0M1847.9,1359.5h31M1863.4,1344v31M1854.4,1350.5l18,18M1854.4,1368.5l18,-18M1855.9,1359.5a7.5,7.5 0 1,0 15,0a7.5,7.5 0 1,0 -15,0M1865.1,1359.5h31M1880.6,1344v31M1871.6,1350.5l18,18M1871.6,1368.5l18,-18M1873.1,1359.5a7.5,7.5 0 1,0 15,0a7.5,7.5 0 1,0 -15,0M1882.4,1359.5h31M1897.9,1344v31M1888.9,1350.5l18,18M1888.9,1368.5l18,-18M1890.4,1359.5a7.5,7.5 0 1,0 15,0a7.5,7.5 0 1,0 -15,0M1899.6,1359.5h31M1915.1,1344v31M1906.1,1350.5l18,18M1906.1,1368.5l18,-18M1907.6,1359.5a7.5,7.5 0 1,0 15,0a7.5,7.5 0 1,0 -15,0M1916.9,1359.5h31M1932.4,1344v31M1923.4,1350.5l18,18M1923.4,1368.5l18,-18M1924.9,1359.5a7.5,7.5 0 1,0 15,0a7.5,7.5 0 1,0 -15,0M1934.1,1359.5h31M1949.6,1344v31M1940.6,1350.5l18,18M1940.6,1368.5l18,-18M1942.1,1359.5a7.5,7.5 0 1,0 15,0a7.5,7.5 0 1,0 -15,0M1951.4,1359.5h31M1966.9,1344v31M1957.9,1350.5l18,18M1957.9,1368.5l18,-18M1959.4,1359.5a7.5,7.5 0 1,0 15,0a7.5,7.5 0 1,0 -15,0M1968.6,1359.5h31M1984.1,1344v31M1975.1,1350.5l18,18M1975.1,1368.5l18,-18M1976.6,1359.5a7.5,7.5 0 1,0 15,0a7.5,7.5 0 1,0 -15,0"/>
</g>
<g id="series-eaci">
<polyline class="ln k" style="stroke-width:7.3" points="276.8,1350.7 294.1,1359.3 311.3,1359.3 328.6,1359.3 345.8,1359.3 363.1,1359.3 380.3,1359.3 397.6,1359.3 414.8,1359.3 432.1,1359.3 449.3,1359.3 466.5,1359.3 483.8,1359.3 501,1359.3 518.3,1359.3 535.5,1359.3 552.8,1359.3 570,1359.3 587.3,1359.3 604.5,1359.3 621.7,1359.3 639,1359.3 656.2,1359.3 673.5,1359.3 690.7,1359.3 708,1359.3 725.2,1359.3 742.5,1359.3 759.7,1359.3 777,1359.3 794.2,1359.3 811.4,1359.3 828.7,1359.3 845.9,1359.3 863.2,1359.3 880.4,1359.3 897.7,1359.3 914.9,1359.3 932.2,1359.3 949.4,1359.3 966.6,1359.3 983.9,1359.3 1001.1,1359.3 1018.4,1359.3 1035.6,1359.3 1052.9,1359.3 1070.1,1359.3 1087.4,1359.3 1104.6,1359.3 1121.8,1359.3 1139.1,1359.3 1156.3,1359.3 1173.6,1359.3 1190.8,1359.3 1208.1,1359.3 1225.3,1359.3 1242.6,1359.3 1259.8,1359.3 1277.1,1359.3 1294.3,1359.3 1311.5,1359.3 1328.8,1359.3 1346,1359.3 1363.3,1359.3 1380.5,1359.3 1397.8,1359.3 1415,1359.3 1432.3,1359.3 1449.5,1359.3 1466.8,1359.3 1484,1359.3 1501.2,1359.3 1518.5,1359.3 1535.7,1359.3 1553,1359.3 1570.2,1359.3 1587.5,1359.3 1604.7,1359.3 1622,1359.3 1639.2,1359.3 1656.4,1359.3 1673.7,1359.3 1690.9,1359.3 1708.2,1359.3 1725.4,1359.3 1742.7,1359.3 1759.9,1359.3 1777.2,1359.3 1794.4,1359.3 1811.7,1359.3 1828.9,1359.3 1846.1,1359.3 1863.4,1359.3 1880.6,1359.3 1897.9,1359.3 1915.1,1359.3 1932.4,1359.3 1949.6,1359.3 1966.9,1359.3 1984.1,1359.3"/>
<path class="mk k tk" d="M276.8,1332.2l16,27.7 -32,0zM294.1,1340.8l16,27.7 -32,0zM311.3,1340.8l16,27.7 -32,0zM328.6,1340.8l16,27.7 -32,0zM345.8,1340.8l16,27.7 -32,0zM363.1,1340.8l16,27.7 -32,0zM380.3,1340.8l16,27.7 -32,0zM397.6,1340.8l16,27.7 -32,0zM414.8,1340.8l16,27.7 -32,0zM432.1,1340.8l16,27.7 -32,0zM449.3,1340.8l16,27.7 -32,0zM466.5,1340.8l16,27.7 -32,0zM483.8,1340.8l16,27.7 -32,0zM501,1340.8l16,27.7 -32,0zM518.3,1340.8l16,27.7 -32,0zM535.5,1340.8l16,27.7 -32,0zM552.8,1340.8l16,27.7 -32,0zM570,1340.8l16,27.7 -32,0zM587.3,1340.8l16,27.7 -32,0zM604.5,1340.8l16,27.7 -32,0zM621.7,1340.8l16,27.7 -32,0zM639,1340.8l16,27.7 -32,0zM656.2,1340.8l16,27.7 -32,0zM673.5,1340.8l16,27.7 -32,0zM690.7,1340.8l16,27.7 -32,0zM708,1340.8l16,27.7 -32,0zM725.2,1340.8l16,27.7 -32,0zM742.5,1340.8l16,27.7 -32,0zM759.7,1340.8l16,27.7 -32,0zM777,1340.8l16,27.7 -32,0zM794.2,1340.8l16,27.7 -32,0zM811.4,1340.8l16,27.7 -32,0zM828.7,1340.8l16,27.7 -32,0zM845.9,1340.8l16,27.7 -32,0zM863.2,1340.8l16,27.7 -32,0zM880.4,1340.8l16,27.7 -32,0zM897.7,1340.8l16,27.7 -32,0zM914.9,1340.8l16,27.7 -32,0zM932.2,1340.8l16,27.7 -32,0zM949.4,1340.8l16,27.7 -32,0zM966.6,1340.8l16,27.7 -32,0zM983.9,1340.8l16,27.7 -32,0zM1001.1,1340.8l16,27.7 -32,0zM1018.4,1340.8l16,27.7 -32,0zM1035.6,1340.8l16,27.7 -32,0zM1052.9,1340.8l16,27.7 -32,0zM1070.1,1340.8l16,27.7 -32,0zM1087.4,1340.8l16,27.7 -32,0zM1104.6,1340.8l16,27.7 -32,0zM1121.8,1340.8l16,27.7 -32,0zM1139.1,1340.8l16,27.7 -32,0zM1156.3,1340.8l16,27.7 -32,0zM1173.6,1340.8l16,27.7 -32,0zM1190.8,1340.8l16,27.7 -32,0zM1208.1,1340.8l16,27.7 -32,0zM1225.3,1340.8l16,27.7 -32,0zM1242.6,1340.8l16,27.7 -32,0zM1259.8,1340.8l16,27.7 -32,0zM1277.1,1340.8l16,27.7 -32,0zM1294.3,1340.8l16,27.7 -32,0zM1311.5,1340.8l16,27.7 -32,0zM1328.8,1340.8l16,27.7 -32,0zM1346,1340.8l16,27.7 -32,0zM1363.3,1340.8l16,27.7 -32,0zM1380.5,1340.8l16,27.7 -32,0zM1397.8,1340.8l16,27.7 -32,0zM1415,1340.8l16,27.7 -32,0zM1432.3,1340.8l16,27.7 -32,0zM1449.5,1340.8l16,27.7 -32,0zM1466.8,1340.8l16,27.7 -32,0zM1484,1340.8l16,27.7 -32,0zM1501.2,1340.8l16,27.7 -32,0zM1518.5,1340.8l16,27.7 -32,0zM1535.7,1340.8l16,27.7 -32,0zM1553,1340.8l16,27.7 -32,0zM1570.2,1340.8l16,27.7 -32,0zM1587.5,1340.8l16,27.7 -32,0zM1604.7,1340.8l16,27.7 -32,0zM1622,1340.8l16,27.7 -32,0zM1639.2,1340.8l16,27.7 -32,0zM1656.4,1340.8l16,27.7 -32,0zM1673.7,1340.8l16,27.7 -32,0zM1690.9,1340.8l16,27.7 -32,0zM1708.2,1340.8l16,27.7 -32,0zM1725.4,1340.8l16,27.7 -32,0zM1742.7,1340.8l16,27.7 -32,0zM1759.9,1340.8l16,27.7 -32,0zM1777.2,1340.8l16,27.7 -32,0zM1794.4,1340.8l16,27.7 -32,0zM1811.7,1340.8l16,27.7 -32,0zM1828.9,1340.8l16,27.7 -32,0zM1846.1,1340.8l16,27.7 -32,0zM1863.4,1340.8l16,27.7 -32,0zM1880.6,1340.8l16,27.7 -32,0zM1897.9,1340.8l16,27.7 -32,0zM1915.1,1340.8l16,27.7 -32,0zM1932.4,1340.8l16,27.7 -32,0zM1949.6,1340.8l16,27.7 -32,0zM1966.9,1340.8l16,27.7 -32,0zM1984.1,1340.8l16,27.7 -32,0z"/>
</g>
<g id="x-tick-labels">
<text transform="translate(259.6,1511.5) scale(1.04,1.0)" text-anchor="middle">0</text>
<text transform="translate(432.1,1511.5) scale(1.04,1.0)" text-anchor="middle">10</text>
<text transform="translate(603.7,1511.5) scale(1.04,1.0)" text-anchor="middle">20</text>
<text transform="translate(777,1511.5) scale(1.04,1.0)" text-anchor="middle">30</text>
<text transform="translate(949.9,1511.5) scale(1.04,1.0)" text-anchor="middle">40</text>
<text transform="translate(1121.8,1511.5) scale(1.04,1.0)" text-anchor="middle">50</text>
<text transform="translate(1293.5,1511.5) scale(1.04,1.0)" text-anchor="middle">60</text>
<text transform="translate(1466.2,1511.5) scale(1.04,1.0)" text-anchor="middle">70</text>
<text transform="translate(1640,1511.5) scale(1.04,1.0)" text-anchor="middle">80</text>
<text transform="translate(1812.1,1511.5) scale(1.04,1.0)" text-anchor="middle">90</text>
<text transform="translate(1986,1511.5) scale(1.04,1.0)" text-anchor="middle">100</text>
</g>
<g id="y-tick-labels">
<text transform="translate(251.7,89.6) scale(1.04,1.0)" text-anchor="end">120</text>
<text transform="translate(251.7,259.6) scale(1.04,1.0)" text-anchor="end">110</text>
<text transform="translate(251.7,432.1) scale(1.04,1.0)" text-anchor="end">100</text>
<text transform="translate(251.7,603.1) scale(1.04,1.0)" text-anchor="end">90</text>
<text transform="translate(251.7,776.1) scale(1.04,1.0)" text-anchor="end">80</text>
<text transform="translate(251.7,947.6) scale(1.04,1.0)" text-anchor="end">70</text>
<text transform="translate(251.7,1120.1) scale(1.04,1.0)" text-anchor="end">60</text>
<text transform="translate(251.7,1291.1) scale(1.04,1.0)" text-anchor="end">50</text>
<text transform="translate(251.7,1462.6) scale(1.04,1.0)" text-anchor="end">40</text>
</g>
<g id="axis-labels">
<text transform="translate(1119.8,1584.3) scale(1.032,1.0)" text-anchor="middle">Number of iterations</text>
<text transform="translate(97.6,747.8) rotate(-90) scale(1.031,1.035)" text-anchor="middle">The optimal length</text>
</g>
<g id="legend">
<rect x="1499.8" y="93.7" width="446.9" height="380.5" fill="#fff" stroke="#000" stroke-width="3.7"/>
<path class="ln r" style="stroke-width:7.4" d="M1514.3,144.1H1589.8"/>
<path class="mk r" d="M1553,125.7l13.5,19.3 -13.5,19.3 -13.5,-19.3z"/>
<text transform="translate(1597,170) scale(1.018,1.0)" text-anchor="start">ACO</text>
<path class="ln b" style="stroke-width:7.4" d="M1514.3,236H1589.8"/>
<path class="st" d="M1552.2,211.6l3.6,0 0.2,8.9 1.9,1 0,5.4 20.5,0 0,1.5 -5.3,3.3 -10.1,8 0,7.4 2.1,0.6 0,9.2 -2.1,-0.3 -3.6,-5.3 -5.9,-4.2 -1.4,-0.3 -8.1,5.7 -5.1,2.3 0,-7.7 2.1,-0.3 0,-7.1 -9.5,-8 -1.8,-2.4 -3.9,-0.9 0,-1.5 20.3,0 0.4,-2.4 2,-5.3 1.9,-3.9z"/>
<text transform="translate(1597,263) scale(1.018,1.0)" text-anchor="start">IACO</text>
<path class="ln m" style="stroke-width:7.4" d="M1514.3,329.9H1589.8"/>
<path class="mk m" d="M1536.6,330.6h31M1552.1,315.1v31M1543.1,321.6l18,18M1543.1,339.6l18,-18M1544.6,330.6a7.5,7.5 0 1,0 15,0a7.5,7.5 0 1,0 -15,0"/>
<text transform="translate(1597,357.2) scale(1.018,1.0)" text-anchor="start">CMEACO</text>
<path class="ln k" style="stroke-width:7.4" d="M1514.3,421.9H1589.8"/>
<path class="mk k tk" d="M1553,403.9l16,27.7 -32,0z"/>
<text transform="translate(1597,451) scale(1.018,1.0)" text-anchor="start">EACI</text>
</g>
</svg>
</figure>
</body>
</html>
